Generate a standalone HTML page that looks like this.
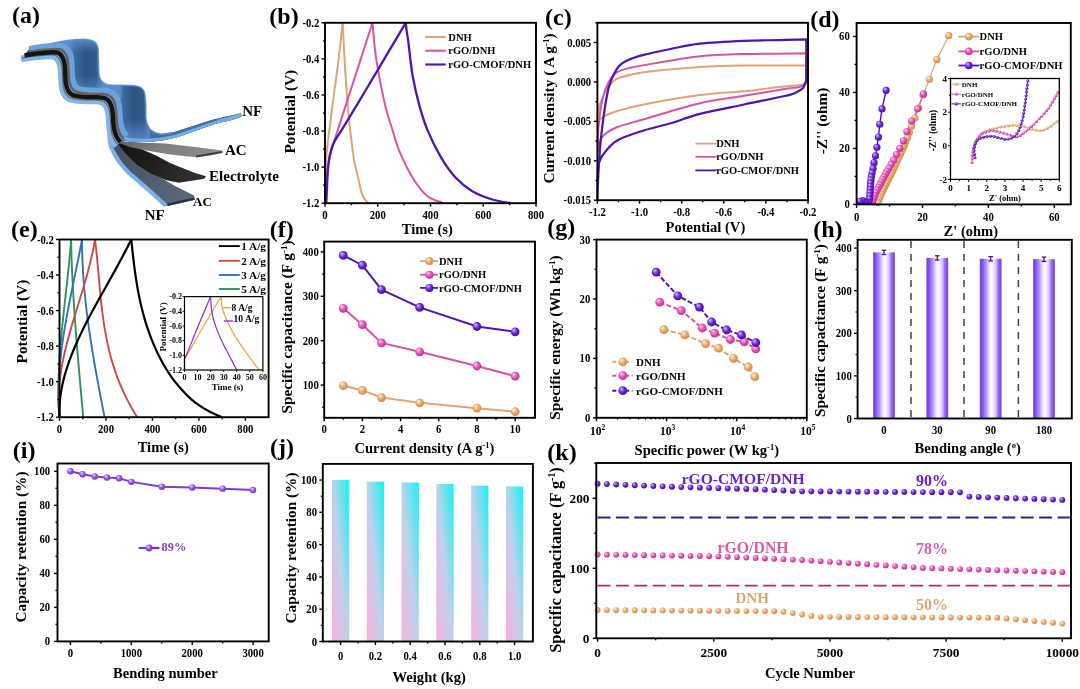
<!DOCTYPE html><html><head><meta charset="utf-8"><title>Figure</title><style>html,body{margin:0;padding:0;background:#fff;overflow:hidden;}svg{display:block;}</style></head><body><svg width="1080" height="689" viewBox="0 0 1080 689" font-family="'Liberation Serif','Times New Roman',serif" font-weight="bold"><defs><radialGradient id="gO" cx="0.45" cy="0.45" r="0.6" fx="0.32" fy="0.28"><stop offset="0" stop-color="#fff3e2"/><stop offset="0.55" stop-color="#eda867"/><stop offset="1" stop-color="#c9864a"/></radialGradient><radialGradient id="gP" cx="0.45" cy="0.45" r="0.6" fx="0.32" fy="0.28"><stop offset="0" stop-color="#ffd6f2"/><stop offset="0.55" stop-color="#e653b4"/><stop offset="1" stop-color="#b8288a"/></radialGradient><radialGradient id="gU" cx="0.45" cy="0.45" r="0.6" fx="0.32" fy="0.28"><stop offset="0" stop-color="#d9c0ff"/><stop offset="0.55" stop-color="#6a22d6"/><stop offset="1" stop-color="#42099a"/></radialGradient><radialGradient id="gL" cx="0.45" cy="0.45" r="0.6" fx="0.32" fy="0.28"><stop offset="0" stop-color="#ecdcff"/><stop offset="0.55" stop-color="#9655e6"/><stop offset="1" stop-color="#6a2cc0"/></radialGradient><linearGradient id="hb" x1="0" y1="0" x2="1" y2="0"><stop offset="0" stop-color="#7048d0"/><stop offset="0.06" stop-color="#7a44ee"/><stop offset="0.14" stop-color="#8a58f4"/><stop offset="0.3" stop-color="#b79cf8"/><stop offset="0.45" stop-color="#eee8ff"/><stop offset="0.55" stop-color="#fffdff"/><stop offset="0.72" stop-color="#dccaff"/><stop offset="0.86" stop-color="#9662f6"/><stop offset="0.95" stop-color="#7f4ae6"/><stop offset="1" stop-color="#7a50c8"/></linearGradient><linearGradient id="jb" x1="0" y1="1" x2="1" y2="0"><stop offset="0" stop-color="#fbb0dc"/><stop offset="0.5" stop-color="#bcd2ec"/><stop offset="1" stop-color="#16f2f2"/></linearGradient><linearGradient id="atop" x1="0" y1="0" x2="1" y2="0.25"><stop offset="0" stop-color="#4f86c4"/><stop offset="0.25" stop-color="#3d6ea8"/><stop offset="0.55" stop-color="#3a69a2"/><stop offset="1" stop-color="#4a80bd"/></linearGradient><linearGradient id="alow" x1="0" y1="0" x2="1" y2="0.6"><stop offset="0" stop-color="#3e4a58"/><stop offset="1" stop-color="#5a6676"/></linearGradient><linearGradient id="aac" x1="0" y1="0" x2="1" y2="0.4"><stop offset="0" stop-color="#5c5c5c"/><stop offset="0.5" stop-color="#7e7e7e"/><stop offset="1" stop-color="#8a8a8a"/></linearGradient><linearGradient id="ael" x1="0" y1="0" x2="1" y2="0.5"><stop offset="0" stop-color="#0e0e0e"/><stop offset="0.6" stop-color="#1e1e1e"/><stop offset="1" stop-color="#2e2e2e"/></linearGradient><linearGradient id="gd1" gradientUnits="userSpaceOnUse" x1="70" y1="0" x2="100" y2="0"><stop offset="0" stop-color="#5585be"/><stop offset="0.16" stop-color="#3f699c"/><stop offset="0.5" stop-color="#2f5585"/><stop offset="0.85" stop-color="#33598a"/><stop offset="1" stop-color="#4874aa"/></linearGradient><linearGradient id="gd2" gradientUnits="userSpaceOnUse" x1="118" y1="0" x2="148" y2="0"><stop offset="0" stop-color="#5585be"/><stop offset="0.16" stop-color="#3f699c"/><stop offset="0.5" stop-color="#2f5585"/><stop offset="0.85" stop-color="#33598a"/><stop offset="1" stop-color="#4874aa"/></linearGradient><linearGradient id="gv1" gradientUnits="userSpaceOnUse" x1="0" y1="76" x2="0" y2="93"><stop offset="0" stop-color="#6aa4e6" stop-opacity="0"/><stop offset="1" stop-color="#5c94d4" stop-opacity="0.6"/></linearGradient><linearGradient id="gv2" gradientUnits="userSpaceOnUse" x1="0" y1="120" x2="0" y2="137"><stop offset="0" stop-color="#6aa4e6" stop-opacity="0"/><stop offset="1" stop-color="#5c94d4" stop-opacity="0.6"/></linearGradient><linearGradient id="gh1" gradientUnits="userSpaceOnUse" x1="0" y1="38" x2="0" y2="52"><stop offset="0" stop-color="#5e92d0" stop-opacity="0.9"/><stop offset="1" stop-color="#5e92d0" stop-opacity="0"/></linearGradient><clipPath id="ctop"><path d="M29,49.2C32.93,48.2 45.93,44.67 52.6,43.2C59.27,41.73 63.55,41.03 69,40.4C74.45,39.77 81.13,39.22 85.3,39.4C89.47,39.58 91.92,40.23 94,41.5C96.08,42.77 97.08,44.45 97.8,47C98.52,49.55 98.12,52.45 98.3,56.8C98.48,61.15 98.62,69.48 98.9,73.1C99.18,76.72 99.18,76.87 100,78.5C100.82,80.13 102.13,81.82 103.8,82.9C105.47,83.98 105.38,84.57 110,85C114.62,85.43 126.4,85.1 131.5,85.5C136.6,85.9 138.43,86.2 140.6,87.4C142.77,88.6 143.63,89.65 144.5,92.7C145.37,95.75 145.55,101.48 145.8,105.7C146.05,109.92 145.63,114.62 146,118C146.37,121.38 146.83,123.75 148,126C149.17,128.25 150.83,130.17 153,131.5C155.17,132.83 157.85,133.82 161,134C164.15,134.18 166.82,133.85 171.9,132.6C176.98,131.35 184.97,128.57 191.5,126.5C198.03,124.43 202.85,122.42 211.1,120.2C219.35,117.98 236.02,114.37 241,113.2 L241,117C239.17,117.58 234.98,119.13 230,120.5C225.02,121.87 217.52,123.23 211.1,125.2C204.68,127.17 198.03,130.07 191.5,132.3C184.97,134.53 178.43,137.05 171.9,138.6C165.37,140.15 158.83,141.12 152.3,141.6C145.77,142.08 137.92,141.68 132.7,141.5C127.48,141.32 122.95,140.67 121,140.5 L120.5,142C120.02,141.42 118.52,140.08 117.6,138.5C116.68,136.92 115.67,134.62 115,132.5C114.33,130.38 113.95,128.62 113.6,125.8C113.25,122.98 113.17,118.48 112.9,115.6C112.63,112.72 112.57,110.77 112,108.5C111.43,106.23 110.67,103.7 109.5,102C108.33,100.3 106.92,99.08 105,98.3C103.08,97.52 101.38,97.5 98,97.3C94.62,97.1 88.95,97.48 84.7,97.1C80.45,96.72 75.32,96.18 72.5,95C69.68,93.82 68.92,92 67.8,90C66.68,88 66.23,85.75 65.8,83C65.37,80.25 65.42,76.67 65.2,73.5C64.98,70.33 64.95,66.67 64.5,64C64.05,61.33 63.5,59.33 62.5,57.5C61.5,55.67 60.25,53.88 58.5,53C56.75,52.12 54.9,52.18 52,52.2C49.1,52.22 44.77,52.72 41.1,53.1C37.43,53.48 32.77,54.1 30,54.5C27.23,54.9 25.42,55.33 24.5,55.5Z"/></clipPath></defs><rect width="1080" height="689" fill="#fff"/><g fill="none" stroke-linejoin="round">
<path d="M325.26,203.2C325.3,199.59 325.32,188.77 325.47,181.55C325.63,174.34 325.78,166.52 326.19,159.9C326.59,153.29 326.78,151.49 327.9,141.86C329.02,132.24 331.2,115.41 332.91,102.18C334.63,88.95 336.56,75.72 338.19,62.49C339.81,49.26 341.92,29.41 342.67,22.8" stroke="#dfa479" stroke-width="2.0" fill="none"/>
<path d="M342.67,22.8C342.8,25.51 343.07,31.52 343.46,39.04C343.86,46.55 344.47,58.58 345.05,67.9C345.62,77.22 346.28,86.84 346.89,94.96C347.51,103.08 348.12,110.17 348.74,116.61C349.35,123.04 349.7,126.38 350.58,133.57C351.46,140.75 352.78,152.48 354.01,159.72C355.24,166.97 356.61,171.24 357.97,177.04C359.33,182.84 360.74,190.48 362.19,194.54C363.64,198.6 365.53,199.95 366.67,201.4C367.82,202.84 368.65,202.9 369.05,203.2" stroke="#dfa479" stroke-width="2.0" fill="none"/>
<path d="M325.79,203.2C325.84,200.19 325.91,190.09 326.06,185.16C326.2,180.23 326.25,177.52 326.69,173.61C327.13,169.71 327.96,165.35 328.69,161.71C329.42,158.07 330.01,155.63 331.07,151.79C332.12,147.94 332.52,146.52 335.02,138.62C337.53,130.71 342.06,116.85 346.1,104.34C350.14,91.83 354.89,77.16 359.29,63.57C363.68,49.98 370.28,29.6 372.48,22.8" stroke="#d6569f" stroke-width="2.0" fill="none"/>
<path d="M372.48,22.8C372.69,25.21 373.27,31.88 373.79,37.23C374.32,42.58 374.58,47.61 375.64,54.91C376.69,62.22 378.45,72.35 380.12,81.07C381.79,89.79 383.64,99.2 385.66,107.23C387.68,115.26 389.88,121.72 392.26,129.24C394.63,136.75 396.3,143.91 399.9,152.33C403.51,160.75 409.27,172.41 413.88,179.75C418.5,187.08 423.03,192.59 427.6,196.34C432.17,200.1 438.68,201.16 441.31,202.3C443.95,203.44 443.07,203.05 443.42,203.2" stroke="#d6569f" stroke-width="2.0" fill="none"/>
<path d="M326.32,203.2C326.38,201.7 326.56,197.79 326.71,194.18C326.87,190.57 327,186.06 327.24,181.55C327.48,177.04 327.75,171.48 328.17,167.12C328.58,162.76 328.96,159.15 329.75,155.39C330.54,151.64 331.73,147.58 332.91,144.57C334.1,141.56 335.42,139.76 336.87,137.35C338.32,134.95 338.32,135.46 341.62,130.14C344.91,124.82 351.51,113.96 356.65,105.42C361.79,96.88 367.2,87.77 372.48,78.9C377.75,70.03 382.76,61.56 388.3,52.21C393.84,42.85 402.81,27.7 405.71,22.8" stroke="#4e16ae" stroke-width="2.3" fill="none"/>
<path d="M405.71,22.8C405.88,24.3 406.32,28.63 406.76,31.82C407.2,35.01 407.38,34.68 408.35,41.92C409.31,49.17 410.72,64.68 412.56,75.3C414.41,85.91 416.92,96.43 419.42,105.6C421.93,114.77 423.95,121.6 427.6,130.32C431.25,139.04 436.7,150.1 441.31,157.92C445.93,165.74 450.19,171.72 455.29,177.22C460.39,182.72 465.89,187.26 471.91,190.93C477.93,194.6 484.96,197.19 491.43,199.23C497.89,201.28 507.47,202.54 510.68,203.2" stroke="#4e16ae" stroke-width="2.3" fill="none"/>
</g>
<rect x="325" y="22.8" width="211" height="180.4" fill="none" stroke="#000" stroke-width="1.9"/>
<line x1="325" y1="203.2" x2="325" y2="206.7" stroke="#000" stroke-width="1.4"/>
<text x="0" y="0" font-size="11.5" text-anchor="middle" transform="translate(325,218.7) scale(0.93,1)">0</text>
<line x1="377.75" y1="203.2" x2="377.75" y2="206.7" stroke="#000" stroke-width="1.4"/>
<text x="0" y="0" font-size="11.5" text-anchor="middle" transform="translate(377.75,218.7) scale(0.93,1)">200</text>
<line x1="430.5" y1="203.2" x2="430.5" y2="206.7" stroke="#000" stroke-width="1.4"/>
<text x="0" y="0" font-size="11.5" text-anchor="middle" transform="translate(430.5,218.7) scale(0.93,1)">400</text>
<line x1="483.25" y1="203.2" x2="483.25" y2="206.7" stroke="#000" stroke-width="1.4"/>
<text x="0" y="0" font-size="11.5" text-anchor="middle" transform="translate(483.25,218.7) scale(0.93,1)">600</text>
<line x1="536" y1="203.2" x2="536" y2="206.7" stroke="#000" stroke-width="1.4"/>
<text x="0" y="0" font-size="11.5" text-anchor="middle" transform="translate(536,218.7) scale(0.93,1)">800</text>
<line x1="351.38" y1="203.2" x2="351.38" y2="205.2" stroke="#000" stroke-width="1.4"/>
<line x1="404.12" y1="203.2" x2="404.12" y2="205.2" stroke="#000" stroke-width="1.4"/>
<line x1="456.88" y1="203.2" x2="456.88" y2="205.2" stroke="#000" stroke-width="1.4"/>
<line x1="509.62" y1="203.2" x2="509.62" y2="205.2" stroke="#000" stroke-width="1.4"/>
<line x1="325" y1="22.8" x2="321.5" y2="22.8" stroke="#000" stroke-width="1.4"/>
<text x="0" y="0" font-size="11.5" text-anchor="end" transform="translate(319.3,26.83) scale(0.93,1)">-0.2</text>
<line x1="325" y1="58.88" x2="321.5" y2="58.88" stroke="#000" stroke-width="1.4"/>
<text x="0" y="0" font-size="11.5" text-anchor="end" transform="translate(319.3,62.91) scale(0.93,1)">-0.4</text>
<line x1="325" y1="94.96" x2="321.5" y2="94.96" stroke="#000" stroke-width="1.4"/>
<text x="0" y="0" font-size="11.5" text-anchor="end" transform="translate(319.3,98.99) scale(0.93,1)">-0.6</text>
<line x1="325" y1="131.04" x2="321.5" y2="131.04" stroke="#000" stroke-width="1.4"/>
<text x="0" y="0" font-size="11.5" text-anchor="end" transform="translate(319.3,135.07) scale(0.93,1)">-0.8</text>
<line x1="325" y1="167.12" x2="321.5" y2="167.12" stroke="#000" stroke-width="1.4"/>
<text x="0" y="0" font-size="11.5" text-anchor="end" transform="translate(319.3,171.15) scale(0.93,1)">-1.0</text>
<line x1="325" y1="203.2" x2="321.5" y2="203.2" stroke="#000" stroke-width="1.4"/>
<text x="0" y="0" font-size="11.5" text-anchor="end" transform="translate(319.3,207.22) scale(0.93,1)">-1.2</text>
<line x1="325" y1="40.84" x2="323" y2="40.84" stroke="#000" stroke-width="1.4"/>
<line x1="325" y1="76.92" x2="323" y2="76.92" stroke="#000" stroke-width="1.4"/>
<line x1="325" y1="113" x2="323" y2="113" stroke="#000" stroke-width="1.4"/>
<line x1="325" y1="149.08" x2="323" y2="149.08" stroke="#000" stroke-width="1.4"/>
<line x1="325" y1="185.16" x2="323" y2="185.16" stroke="#000" stroke-width="1.4"/>
<line x1="425.2" y1="37" x2="445.7" y2="37" stroke="#dfa479" stroke-width="2.1"/>
<text x="448.3" y="40.6" font-size="10.5">DNH</text>
<line x1="425.2" y1="50.7" x2="445.7" y2="50.7" stroke="#d6569f" stroke-width="2.1"/>
<text x="448.3" y="54.3" font-size="10.5">rGO/DNH</text>
<line x1="425.2" y1="64.5" x2="445.7" y2="64.5" stroke="#4e16ae" stroke-width="2.1"/>
<text x="448.3" y="68.1" font-size="10.5">rGO-CMOF/DNH</text>
<text x="0" y="0" font-size="15.3" text-anchor="middle" transform="translate(295.05,111.7) rotate(-90)">Potential (V)</text>
<text x="0" y="0" font-size="15.5" text-anchor="middle" transform="translate(427.3,234.4) scale(0.94,1)">Time (s)</text>
<text x="269.3" y="24" font-size="24">(b)</text>
<g fill="none" stroke-linejoin="round">
<path d="M597.9,125C597.83,123.15 596.58,118.88 597.5,113.9C598.42,108.92 601.07,100.23 603.4,95.1C605.73,89.97 608.82,86 611.5,83.1C614.18,80.2 614.13,79.5 619.5,77.7C624.87,75.9 630.28,74.08 643.7,72.3C657.12,70.52 683.28,68.13 700,67C716.72,65.87 726.28,65.75 744,65.5C761.72,65.25 795.92,65.5 806.3,65.5 L806.3,83.6C805.25,83.83 804.58,84.42 800,85C795.42,85.58 788.13,86.05 778.8,87.1C769.47,88.15 757.13,89.97 744,91.3C730.87,92.63 716.72,92.9 700,95.1C683.28,97.3 657.57,101.82 643.7,104.5C629.83,107.18 623.07,109.4 616.8,111.2C610.53,113 608.9,113.92 606.1,115.3C603.3,116.68 601.37,117.88 600,119.5C598.63,121.12 598.25,124.08 597.9,125" stroke="#dfa479" stroke-width="2.0" fill="none"/>
<path d="M597.9,150C597.97,146.67 597.6,138.25 598.3,130C599,121.75 600.35,108.55 602.1,100.5C603.85,92.45 606.35,86.4 608.8,81.7C611.25,77 613.23,74.62 616.8,72.3C620.37,69.98 623.48,69.37 630.2,67.8C636.92,66.23 645.47,64.83 657.1,62.9C668.73,60.97 685.52,57.68 700,56.2C714.48,54.72 726.28,54.48 744,54C761.72,53.52 795.92,53.42 806.3,53.3 L806.3,82C805.58,82.67 803.68,85.07 802,86C800.32,86.93 800.07,86.95 796.2,87.6C792.33,88.25 787.5,88.53 778.8,89.9C770.1,91.27 757.13,93.58 744,95.8C730.87,98.02 716.72,99.28 700,103.2C683.28,107.12 657.57,115.28 643.7,119.3C629.83,123.32 623.52,124.62 616.8,127.3C610.08,129.98 606.28,132.78 603.4,135.4C600.52,138.02 600.35,140.48 599.5,143C598.65,145.52 598.57,149.33 598.3,150.5C598.03,151.67 597.97,150.08 597.9,150" stroke="#d6569f" stroke-width="2.0" fill="none"/>
<path d="M597.4,199C597.5,196 597.45,190.72 598,181C598.55,171.28 599.57,152.78 600.7,140.7C601.83,128.62 603.45,117.43 604.8,108.5C606.15,99.57 607.25,92.9 608.8,87.1C610.35,81.3 612.32,77.28 614.1,73.7C615.88,70.12 617.25,67.85 619.5,65.6C621.75,63.35 623.57,61.98 627.6,60.2C631.63,58.42 636.55,56.77 643.7,54.9C650.85,53.03 661.12,50.88 670.5,49C679.88,47.12 687.75,44.97 700,43.6C712.25,42.23 730.87,41.38 744,40.8C757.13,40.22 768.42,40.33 778.8,40.1C789.18,39.87 801.72,39.52 806.3,39.4 L806.3,80C805.75,81.33 804.72,85.92 803,88C801.28,90.08 798.87,91.2 796,92.5C793.13,93.8 794.47,93.8 785.8,95.8C777.13,97.8 758.3,101.48 744,104.5C729.7,107.52 712.25,110.77 700,113.9C687.75,117.03 679.88,120.53 670.5,123.3C661.12,126.07 652.65,127.6 643.7,130.5C634.75,133.4 623.52,136.75 616.8,140.7C610.08,144.65 606.3,150.65 603.4,154.2C600.5,157.75 600.3,159.7 599.4,162C598.5,164.3 598.33,161.83 598,168C597.67,174.17 597.5,193.83 597.4,199" stroke="#4e16ae" stroke-width="2.2" fill="none"/>
</g>
<rect x="597.4" y="22.8" width="210.6" height="177.4" fill="none" stroke="#000" stroke-width="1.9"/>
<line x1="597.4" y1="200.2" x2="597.4" y2="203.7" stroke="#000" stroke-width="1.4"/>
<text x="0" y="0" font-size="11.5" text-anchor="middle" transform="translate(597.4,215.7) scale(0.93,1)">-1.2</text>
<line x1="639.52" y1="200.2" x2="639.52" y2="203.7" stroke="#000" stroke-width="1.4"/>
<text x="0" y="0" font-size="11.5" text-anchor="middle" transform="translate(639.52,215.7) scale(0.93,1)">-1.0</text>
<line x1="681.64" y1="200.2" x2="681.64" y2="203.7" stroke="#000" stroke-width="1.4"/>
<text x="0" y="0" font-size="11.5" text-anchor="middle" transform="translate(681.64,215.7) scale(0.93,1)">-0.8</text>
<line x1="723.76" y1="200.2" x2="723.76" y2="203.7" stroke="#000" stroke-width="1.4"/>
<text x="0" y="0" font-size="11.5" text-anchor="middle" transform="translate(723.76,215.7) scale(0.93,1)">-0.6</text>
<line x1="765.88" y1="200.2" x2="765.88" y2="203.7" stroke="#000" stroke-width="1.4"/>
<text x="0" y="0" font-size="11.5" text-anchor="middle" transform="translate(765.88,215.7) scale(0.93,1)">-0.4</text>
<line x1="808" y1="200.2" x2="808" y2="203.7" stroke="#000" stroke-width="1.4"/>
<text x="0" y="0" font-size="11.5" text-anchor="middle" transform="translate(808,215.7) scale(0.93,1)">-0.2</text>
<line x1="618.46" y1="200.2" x2="618.46" y2="202.2" stroke="#000" stroke-width="1.4"/>
<line x1="660.58" y1="200.2" x2="660.58" y2="202.2" stroke="#000" stroke-width="1.4"/>
<line x1="702.7" y1="200.2" x2="702.7" y2="202.2" stroke="#000" stroke-width="1.4"/>
<line x1="744.82" y1="200.2" x2="744.82" y2="202.2" stroke="#000" stroke-width="1.4"/>
<line x1="786.94" y1="200.2" x2="786.94" y2="202.2" stroke="#000" stroke-width="1.4"/>
<line x1="597.4" y1="42.51" x2="593.9" y2="42.51" stroke="#000" stroke-width="1.4"/>
<text x="0" y="0" font-size="11.5" text-anchor="end" transform="translate(591.2,46.54) scale(0.93,1)">0.005</text>
<line x1="597.4" y1="81.93" x2="593.9" y2="81.93" stroke="#000" stroke-width="1.4"/>
<text x="0" y="0" font-size="11.5" text-anchor="end" transform="translate(591.2,85.96) scale(0.93,1)">0.000</text>
<line x1="597.4" y1="121.36" x2="593.9" y2="121.36" stroke="#000" stroke-width="1.4"/>
<text x="0" y="0" font-size="11.5" text-anchor="end" transform="translate(591.2,125.38) scale(0.93,1)">-0.005</text>
<line x1="597.4" y1="160.78" x2="593.9" y2="160.78" stroke="#000" stroke-width="1.4"/>
<text x="0" y="0" font-size="11.5" text-anchor="end" transform="translate(591.2,164.8) scale(0.93,1)">-0.010</text>
<line x1="597.4" y1="200.2" x2="593.9" y2="200.2" stroke="#000" stroke-width="1.4"/>
<text x="0" y="0" font-size="11.5" text-anchor="end" transform="translate(591.2,204.22) scale(0.93,1)">-0.015</text>
<line x1="597.4" y1="22.8" x2="595.4" y2="22.8" stroke="#000" stroke-width="1.4"/>
<line x1="597.4" y1="62.22" x2="595.4" y2="62.22" stroke="#000" stroke-width="1.4"/>
<line x1="597.4" y1="101.64" x2="595.4" y2="101.64" stroke="#000" stroke-width="1.4"/>
<line x1="597.4" y1="141.07" x2="595.4" y2="141.07" stroke="#000" stroke-width="1.4"/>
<line x1="597.4" y1="180.49" x2="595.4" y2="180.49" stroke="#000" stroke-width="1.4"/>
<line x1="695.4" y1="143.6" x2="716.5" y2="143.6" stroke="#dfa479" stroke-width="1.8"/>
<text x="716.2" y="147.2" font-size="10.5">DNH</text>
<line x1="695.4" y1="156.8" x2="716.5" y2="156.8" stroke="#d6569f" stroke-width="1.8"/>
<text x="716.2" y="160.4" font-size="10.5">rGO/DNH</text>
<line x1="695.4" y1="170.4" x2="716.5" y2="170.4" stroke="#4e16ae" stroke-width="1.8"/>
<text x="716.2" y="174" font-size="10.5">rGO-CMOF/DNH</text>
<text x="0" y="0" font-size="15.3" text-anchor="middle" transform="translate(553.75,108.5) rotate(-90)">Current density ( A g<tspan dy="-5" font-size="9">-1</tspan><tspan dy="5">)</tspan></text>
<text x="0" y="0" font-size="15.5" text-anchor="middle" transform="translate(705.4,232) scale(0.94,1)">Potential (V)</text>
<text x="545" y="24.9" font-size="24">(c)</text>
<g fill="none">
<path d="M948.7,35.7 L936.9,59.4 L929.4,79.3 L923.4,93.9 L918,110 L912.5,124 L906.6,140 L899,157 L893,170 L886.3,183.5 L881,194 L877.6,203.9" stroke="#dfa479" stroke-width="1.2" fill="none"/>
<path d="M923.4,93.9 L917.6,109 L912.9,118.7 L909.3,125.6 L906.3,133 L903.2,141.3 L898,152 L892,163 L886,173 L880.5,183.5 L876,192 L871.8,203.9" stroke="#d6569f" stroke-width="1.2" fill="none"/>
<path d="M886.1,90.3 L882,108.8 L879.8,124.2 L878.4,137.1 L877,146.8 L875.7,155.1 L874.3,160.6 L873.5,166.1 L872.4,171.6 L871.5,175.7 L870.8,181 L870.3,187 L870,193 L869.6,199 L868.5,202.5 L866,202 L863,200.5 L860,201 L857.5,203.5" stroke="#4e16ae" stroke-width="1.4" fill="none"/>
</g>
<circle cx="948.7" cy="35.7" r="3.6" fill="url(#gO)"/>
<circle cx="936.89" cy="59.42" r="3.6" fill="url(#gO)"/>
<circle cx="929.41" cy="79.26" r="3.6" fill="url(#gO)"/>
<circle cx="923.04" cy="94.97" r="3.6" fill="url(#gO)"/>
<circle cx="918.72" cy="107.84" r="3.6" fill="url(#gO)"/>
<circle cx="914.86" cy="117.98" r="3.6" fill="url(#gO)"/>
<circle cx="911.73" cy="126.08" r="3.6" fill="url(#gO)"/>
<circle cx="909.33" cy="132.6" r="3.6" fill="url(#gO)"/>
<circle cx="907.41" cy="137.81" r="3.6" fill="url(#gO)"/>
<circle cx="905.74" cy="141.93" r="3.6" fill="url(#gO)"/>
<circle cx="904.29" cy="145.18" r="3.6" fill="url(#gO)"/>
<circle cx="903.06" cy="147.92" r="3.6" fill="url(#gO)"/>
<circle cx="901.84" cy="150.65" r="3.6" fill="url(#gO)"/>
<circle cx="900.61" cy="153.39" r="3.6" fill="url(#gO)"/>
<circle cx="899.39" cy="156.13" r="3.6" fill="url(#gO)"/>
<circle cx="898.14" cy="158.86" r="3.6" fill="url(#gO)"/>
<circle cx="896.88" cy="161.58" r="3.6" fill="url(#gO)"/>
<circle cx="895.63" cy="164.31" r="3.6" fill="url(#gO)"/>
<circle cx="894.37" cy="167.03" r="3.6" fill="url(#gO)"/>
<circle cx="893.11" cy="169.76" r="3.6" fill="url(#gO)"/>
<circle cx="891.79" cy="172.45" r="3.6" fill="url(#gO)"/>
<circle cx="890.45" cy="175.13" r="3.6" fill="url(#gO)"/>
<circle cx="889.12" cy="177.82" r="3.6" fill="url(#gO)"/>
<circle cx="887.78" cy="180.51" r="3.6" fill="url(#gO)"/>
<circle cx="886.45" cy="183.2" r="3.6" fill="url(#gO)"/>
<circle cx="885.1" cy="185.87" r="3.6" fill="url(#gO)"/>
<circle cx="883.75" cy="188.55" r="3.6" fill="url(#gO)"/>
<circle cx="882.4" cy="191.23" r="3.6" fill="url(#gO)"/>
<circle cx="881.05" cy="193.91" r="3.6" fill="url(#gO)"/>
<circle cx="880.06" cy="196.74" r="3.6" fill="url(#gO)"/>
<circle cx="879.08" cy="199.58" r="3.6" fill="url(#gO)"/>
<circle cx="878.11" cy="202.42" r="3.6" fill="url(#gO)"/>
<circle cx="923.4" cy="93.9" r="3.6" fill="url(#gP)"/>
<circle cx="917.66" cy="108.84" r="3.6" fill="url(#gP)"/>
<circle cx="911.68" cy="121.05" r="3.6" fill="url(#gP)"/>
<circle cx="906.89" cy="131.55" r="3.6" fill="url(#gP)"/>
<circle cx="903.41" cy="140.74" r="3.6" fill="url(#gP)"/>
<circle cx="899.81" cy="148.28" r="3.6" fill="url(#gP)"/>
<circle cx="896.58" cy="154.6" r="3.6" fill="url(#gP)"/>
<circle cx="893.69" cy="159.9" r="3.6" fill="url(#gP)"/>
<circle cx="891.18" cy="164.37" r="3.6" fill="url(#gP)"/>
<circle cx="888.94" cy="168.1" r="3.6" fill="url(#gP)"/>
<circle cx="887.03" cy="171.28" r="3.6" fill="url(#gP)"/>
<circle cx="885.47" cy="174.02" r="3.6" fill="url(#gP)"/>
<circle cx="884.08" cy="176.67" r="3.6" fill="url(#gP)"/>
<circle cx="882.68" cy="179.33" r="3.6" fill="url(#gP)"/>
<circle cx="881.29" cy="181.99" r="3.6" fill="url(#gP)"/>
<circle cx="879.9" cy="184.64" r="3.6" fill="url(#gP)"/>
<circle cx="878.49" cy="187.29" r="3.6" fill="url(#gP)"/>
<circle cx="877.09" cy="189.95" r="3.6" fill="url(#gP)"/>
<circle cx="875.78" cy="192.64" r="3.6" fill="url(#gP)"/>
<circle cx="874.78" cy="195.47" r="3.6" fill="url(#gP)"/>
<circle cx="873.78" cy="198.29" r="3.6" fill="url(#gP)"/>
<circle cx="872.78" cy="201.12" r="3.6" fill="url(#gP)"/>
<circle cx="886.1" cy="90.3" r="3.6" fill="url(#gU)"/>
<circle cx="881.99" cy="108.85" r="3.6" fill="url(#gU)"/>
<circle cx="879.79" cy="124.27" r="3.6" fill="url(#gU)"/>
<circle cx="878.41" cy="136.98" r="3.6" fill="url(#gU)"/>
<circle cx="876.91" cy="147.34" r="3.6" fill="url(#gU)"/>
<circle cx="875.52" cy="155.82" r="3.6" fill="url(#gU)"/>
<circle cx="874" cy="162.69" r="3.6" fill="url(#gU)"/>
<circle cx="873.04" cy="168.38" r="3.6" fill="url(#gU)"/>
<circle cx="872.09" cy="173.02" r="3.6" fill="url(#gU)"/>
<circle cx="871.35" cy="176.83" r="3.6" fill="url(#gU)"/>
<circle cx="870.93" cy="180" r="3.6" fill="url(#gU)"/>
<circle cx="870.62" cy="183.19" r="3.6" fill="url(#gU)"/>
<circle cx="870.35" cy="186.38" r="3.6" fill="url(#gU)"/>
<circle cx="870.17" cy="189.57" r="3.6" fill="url(#gU)"/>
<circle cx="870.01" cy="192.77" r="3.6" fill="url(#gU)"/>
<circle cx="869.8" cy="195.96" r="3.6" fill="url(#gU)"/>
<circle cx="869.55" cy="199.15" r="3.6" fill="url(#gU)"/>
<circle cx="868.59" cy="202.2" r="3.6" fill="url(#gU)"/>
<circle cx="865.7" cy="201.85" r="3.6" fill="url(#gU)"/>
<circle cx="862.82" cy="200.53" r="3.6" fill="url(#gU)"/>
<circle cx="859.76" cy="201.24" r="3.6" fill="url(#gU)"/>
<rect x="856" y="204.4" width="20" height="6" fill="#fff"/>
<rect x="856.6" y="23" width="214.2" height="181.4" fill="none" stroke="#000" stroke-width="1.9"/>
<line x1="856.6" y1="204.4" x2="856.6" y2="207.9" stroke="#000" stroke-width="1.4"/>
<text x="0" y="0" font-size="11.5" text-anchor="middle" transform="translate(856.6,220.9) scale(0.93,1)">0</text>
<line x1="922.51" y1="204.4" x2="922.51" y2="207.9" stroke="#000" stroke-width="1.4"/>
<text x="0" y="0" font-size="11.5" text-anchor="middle" transform="translate(922.51,220.9) scale(0.93,1)">20</text>
<line x1="988.42" y1="204.4" x2="988.42" y2="207.9" stroke="#000" stroke-width="1.4"/>
<text x="0" y="0" font-size="11.5" text-anchor="middle" transform="translate(988.42,220.9) scale(0.93,1)">40</text>
<line x1="1054.32" y1="204.4" x2="1054.32" y2="207.9" stroke="#000" stroke-width="1.4"/>
<text x="0" y="0" font-size="11.5" text-anchor="middle" transform="translate(1054.32,220.9) scale(0.93,1)">60</text>
<line x1="889.55" y1="204.4" x2="889.55" y2="206.4" stroke="#000" stroke-width="1.4"/>
<line x1="955.46" y1="204.4" x2="955.46" y2="206.4" stroke="#000" stroke-width="1.4"/>
<line x1="1021.37" y1="204.4" x2="1021.37" y2="206.4" stroke="#000" stroke-width="1.4"/>
<line x1="856.6" y1="204.4" x2="853.1" y2="204.4" stroke="#000" stroke-width="1.4"/>
<text x="0" y="0" font-size="11.5" text-anchor="end" transform="translate(849.8,208.43) scale(0.93,1)">0</text>
<line x1="856.6" y1="148.41" x2="853.1" y2="148.41" stroke="#000" stroke-width="1.4"/>
<text x="0" y="0" font-size="11.5" text-anchor="end" transform="translate(849.8,152.44) scale(0.93,1)">20</text>
<line x1="856.6" y1="92.42" x2="853.1" y2="92.42" stroke="#000" stroke-width="1.4"/>
<text x="0" y="0" font-size="11.5" text-anchor="end" transform="translate(849.8,96.45) scale(0.93,1)">40</text>
<line x1="856.6" y1="36.44" x2="853.1" y2="36.44" stroke="#000" stroke-width="1.4"/>
<text x="0" y="0" font-size="11.5" text-anchor="end" transform="translate(849.8,40.46) scale(0.93,1)">60</text>
<line x1="856.6" y1="176.41" x2="854.6" y2="176.41" stroke="#000" stroke-width="1.4"/>
<line x1="856.6" y1="120.42" x2="854.6" y2="120.42" stroke="#000" stroke-width="1.4"/>
<line x1="856.6" y1="64.43" x2="854.6" y2="64.43" stroke="#000" stroke-width="1.4"/>
<line x1="958.4" y1="36.6" x2="979.3" y2="36.6" stroke="#dfa479" stroke-width="1.8"/>
<circle cx="968.8" cy="36.6" r="3.8" fill="url(#gO)"/>
<text x="979.6" y="40.2" font-size="10.5">DNH</text>
<line x1="958.4" y1="51.4" x2="979.3" y2="51.4" stroke="#d6569f" stroke-width="1.8"/>
<circle cx="968.8" cy="51.4" r="3.8" fill="url(#gP)"/>
<text x="979.6" y="55" font-size="10.5">rGO/DNH</text>
<line x1="958.4" y1="65.5" x2="979.3" y2="65.5" stroke="#4e16ae" stroke-width="1.8"/>
<circle cx="968.8" cy="65.5" r="3.8" fill="url(#gU)"/>
<text x="979.6" y="69.1" font-size="10.5">rGO-CMOF/DNH</text>
<rect x="950.5" y="78.5" width="108.8" height="100.9" fill="#fff"/>
<path d="M972.62,155.02C972.71,154.57 972.62,154.65 973.17,152.33C973.71,150 974.47,144.17 975.89,141.06C977.31,137.95 979.48,135.51 981.69,133.66C983.9,131.81 986.01,131.05 989.12,129.96C992.24,128.87 996.59,127.88 1000.37,127.1C1004.14,126.32 1008.01,125.42 1011.79,125.25C1015.57,125.08 1019.26,125.31 1023.03,126.09C1026.81,126.88 1031.31,129.17 1034.46,129.96C1037.6,130.74 1039.38,131.28 1041.89,130.8C1044.4,130.32 1047,128.64 1049.51,127.1C1052.02,125.56 1055.31,122.7 1056.94,121.55C1058.57,120.4 1058.91,120.43 1059.3,120.21" stroke="#dfa479" stroke-width="1.0" fill="none"/>
<circle cx="972.62" cy="155.02" r="1.5" fill="url(#gO)"/>
<circle cx="973.46" cy="151.11" r="1.5" fill="url(#gO)"/>
<circle cx="974.4" cy="147.22" r="1.5" fill="url(#gO)"/>
<circle cx="975.34" cy="143.33" r="1.5" fill="url(#gO)"/>
<circle cx="976.91" cy="139.75" r="1.5" fill="url(#gO)"/>
<circle cx="979.38" cy="136.6" r="1.5" fill="url(#gO)"/>
<circle cx="981.92" cy="133.54" r="1.5" fill="url(#gO)"/>
<circle cx="985.5" cy="131.76" r="1.5" fill="url(#gO)"/>
<circle cx="989.09" cy="129.98" r="1.5" fill="url(#gO)"/>
<circle cx="992.96" cy="128.98" r="1.5" fill="url(#gO)"/>
<circle cx="996.84" cy="128" r="1.5" fill="url(#gO)"/>
<circle cx="1000.72" cy="127.04" r="1.5" fill="url(#gO)"/>
<circle cx="1004.67" cy="126.4" r="1.5" fill="url(#gO)"/>
<circle cx="1008.62" cy="125.76" r="1.5" fill="url(#gO)"/>
<circle cx="1012.57" cy="125.31" r="1.5" fill="url(#gO)"/>
<circle cx="1016.56" cy="125.61" r="1.5" fill="url(#gO)"/>
<circle cx="1020.55" cy="125.91" r="1.5" fill="url(#gO)"/>
<circle cx="1024.46" cy="126.58" r="1.5" fill="url(#gO)"/>
<circle cx="1028.25" cy="127.86" r="1.5" fill="url(#gO)"/>
<circle cx="1032.04" cy="129.14" r="1.5" fill="url(#gO)"/>
<circle cx="1035.9" cy="130.12" r="1.5" fill="url(#gO)"/>
<circle cx="1039.87" cy="130.57" r="1.5" fill="url(#gO)"/>
<circle cx="1043.66" cy="129.94" r="1.5" fill="url(#gO)"/>
<circle cx="1047.26" cy="128.19" r="1.5" fill="url(#gO)"/>
<circle cx="1050.71" cy="126.2" r="1.5" fill="url(#gO)"/>
<circle cx="1053.91" cy="123.81" r="1.5" fill="url(#gO)"/>
<circle cx="1057.14" cy="121.44" r="1.5" fill="url(#gO)"/>
<path d="M972.08,162.42C972.11,161.32 972.08,158.07 972.26,155.86C972.44,153.64 972.56,151.65 973.17,149.13C973.77,146.61 974.47,143.38 975.89,140.72C977.31,138.06 979.12,134.89 981.69,133.15C984.26,131.42 988.19,130.46 991.3,130.3C994.41,130.13 997.19,131.33 1000.37,132.15C1003.54,132.96 1007.77,134.36 1010.34,135.17C1012.91,135.98 1014.27,136.88 1015.78,137.02C1017.29,137.16 1017.29,137.3 1019.41,136.01C1021.52,134.72 1025.45,131.86 1028.47,129.29C1031.5,126.71 1034.22,123.96 1037.54,120.54C1040.86,117.12 1044.79,113.81 1048.42,108.77C1052.05,103.72 1057.49,93.35 1059.3,90.27" stroke="#d6569f" stroke-width="1.0" fill="none"/>
<circle cx="972.08" cy="162.42" r="1.5" fill="url(#gP)"/>
<circle cx="972.18" cy="158.82" r="1.5" fill="url(#gP)"/>
<circle cx="972.35" cy="155.22" r="1.5" fill="url(#gP)"/>
<circle cx="972.83" cy="151.66" r="1.5" fill="url(#gP)"/>
<circle cx="973.49" cy="148.13" r="1.5" fill="url(#gP)"/>
<circle cx="974.6" cy="144.7" r="1.5" fill="url(#gP)"/>
<circle cx="975.71" cy="141.28" r="1.5" fill="url(#gP)"/>
<circle cx="977.72" cy="138.33" r="1.5" fill="url(#gP)"/>
<circle cx="979.91" cy="135.47" r="1.5" fill="url(#gP)"/>
<circle cx="982.34" cy="132.96" r="1.5" fill="url(#gP)"/>
<circle cx="985.79" cy="131.93" r="1.5" fill="url(#gP)"/>
<circle cx="989.24" cy="130.91" r="1.5" fill="url(#gP)"/>
<circle cx="992.72" cy="130.59" r="1.5" fill="url(#gP)"/>
<circle cx="996.25" cy="131.31" r="1.5" fill="url(#gP)"/>
<circle cx="999.78" cy="132.02" r="1.5" fill="url(#gP)"/>
<circle cx="1003.24" cy="133.02" r="1.5" fill="url(#gP)"/>
<circle cx="1006.68" cy="134.06" r="1.5" fill="url(#gP)"/>
<circle cx="1010.12" cy="135.11" r="1.5" fill="url(#gP)"/>
<circle cx="1013.54" cy="136.26" r="1.5" fill="url(#gP)"/>
<circle cx="1016.96" cy="136.69" r="1.5" fill="url(#gP)"/>
<circle cx="1020.26" cy="135.38" r="1.5" fill="url(#gP)"/>
<circle cx="1023.15" cy="133.23" r="1.5" fill="url(#gP)"/>
<circle cx="1026.04" cy="131.09" r="1.5" fill="url(#gP)"/>
<circle cx="1028.89" cy="128.89" r="1.5" fill="url(#gP)"/>
<circle cx="1031.48" cy="126.39" r="1.5" fill="url(#gP)"/>
<circle cx="1034.07" cy="123.89" r="1.5" fill="url(#gP)"/>
<circle cx="1036.66" cy="121.39" r="1.5" fill="url(#gP)"/>
<circle cx="1039.15" cy="118.79" r="1.5" fill="url(#gP)"/>
<circle cx="1041.6" cy="116.15" r="1.5" fill="url(#gP)"/>
<circle cx="1044.04" cy="113.51" r="1.5" fill="url(#gP)"/>
<circle cx="1046.49" cy="110.86" r="1.5" fill="url(#gP)"/>
<circle cx="1048.8" cy="108.12" r="1.5" fill="url(#gP)"/>
<circle cx="1050.62" cy="105.02" r="1.5" fill="url(#gP)"/>
<circle cx="1052.45" cy="101.92" r="1.5" fill="url(#gP)"/>
<circle cx="1054.28" cy="98.82" r="1.5" fill="url(#gP)"/>
<circle cx="1056.1" cy="95.71" r="1.5" fill="url(#gP)"/>
<circle cx="1057.93" cy="92.61" r="1.5" fill="url(#gP)"/>
<path d="M974.98,157.71C974.83,156.56 974.16,152.8 974.07,150.81C973.98,148.82 973.98,147.45 974.44,145.77C974.89,144.09 975.58,142.12 976.79,140.72C978,139.32 979.27,138.14 981.69,137.36C984.11,136.57 988.19,135.9 991.3,136.01C994.41,136.13 998.1,137.47 1000.37,138.03C1002.63,138.59 1003.24,139.26 1004.9,139.38C1006.56,139.49 1008.53,139.38 1010.34,138.7C1012.15,138.03 1014.27,136.91 1015.78,135.34C1017.29,133.77 1018.2,132.31 1019.41,129.29C1020.62,126.26 1021.98,122.28 1023.03,117.18C1024.09,112.08 1025,104.57 1025.75,98.68C1026.51,92.79 1027.11,85.23 1027.57,81.86C1028.02,78.5 1028.32,79.06 1028.47,78.5" stroke="#4e16ae" stroke-width="1.0" fill="none"/>
<circle cx="974.98" cy="157.71" r="1.5" fill="url(#gU)"/>
<circle cx="974.51" cy="154.14" r="1.5" fill="url(#gU)"/>
<circle cx="974.09" cy="150.57" r="1.5" fill="url(#gU)"/>
<circle cx="974.35" cy="146.98" r="1.5" fill="url(#gU)"/>
<circle cx="975.45" cy="143.6" r="1.5" fill="url(#gU)"/>
<circle cx="977.14" cy="140.48" r="1.5" fill="url(#gU)"/>
<circle cx="980.11" cy="138.45" r="1.5" fill="url(#gU)"/>
<circle cx="983.35" cy="137.13" r="1.5" fill="url(#gU)"/>
<circle cx="986.92" cy="136.63" r="1.5" fill="url(#gU)"/>
<circle cx="990.48" cy="136.13" r="1.5" fill="url(#gU)"/>
<circle cx="994.01" cy="136.62" r="1.5" fill="url(#gU)"/>
<circle cx="997.52" cy="137.4" r="1.5" fill="url(#gU)"/>
<circle cx="1001.02" cy="138.23" r="1.5" fill="url(#gU)"/>
<circle cx="1004.48" cy="139.25" r="1.5" fill="url(#gU)"/>
<circle cx="1008.03" cy="138.99" r="1.5" fill="url(#gU)"/>
<circle cx="1011.43" cy="138.03" r="1.5" fill="url(#gU)"/>
<circle cx="1014.49" cy="136.14" r="1.5" fill="url(#gU)"/>
<circle cx="1016.85" cy="133.56" r="1.5" fill="url(#gU)"/>
<circle cx="1018.7" cy="130.47" r="1.5" fill="url(#gU)"/>
<circle cx="1020.04" cy="127.16" r="1.5" fill="url(#gU)"/>
<circle cx="1021.08" cy="123.71" r="1.5" fill="url(#gU)"/>
<circle cx="1022.11" cy="120.26" r="1.5" fill="url(#gU)"/>
<circle cx="1023.09" cy="116.8" r="1.5" fill="url(#gU)"/>
<circle cx="1023.61" cy="113.24" r="1.5" fill="url(#gU)"/>
<circle cx="1024.14" cy="109.68" r="1.5" fill="url(#gU)"/>
<circle cx="1024.66" cy="106.11" r="1.5" fill="url(#gU)"/>
<circle cx="1025.18" cy="102.55" r="1.5" fill="url(#gU)"/>
<circle cx="1025.71" cy="98.99" r="1.5" fill="url(#gU)"/>
<circle cx="1026.11" cy="95.41" r="1.5" fill="url(#gU)"/>
<circle cx="1026.49" cy="91.83" r="1.5" fill="url(#gU)"/>
<circle cx="1026.88" cy="88.25" r="1.5" fill="url(#gU)"/>
<circle cx="1027.26" cy="84.67" r="1.5" fill="url(#gU)"/>
<circle cx="1027.77" cy="81.12" r="1.5" fill="url(#gU)"/>
<rect x="950.5" y="78.5" width="108.8" height="100.9" fill="none" stroke="#000" stroke-width="1.3"/>
<line x1="950.5" y1="179.4" x2="950.5" y2="181.9" stroke="#000" stroke-width="1"/>
<text x="950.5" y="190.9" font-size="9" text-anchor="middle">0</text>
<line x1="968.63" y1="179.4" x2="968.63" y2="181.9" stroke="#000" stroke-width="1"/>
<text x="968.63" y="190.9" font-size="9" text-anchor="middle">1</text>
<line x1="986.77" y1="179.4" x2="986.77" y2="181.9" stroke="#000" stroke-width="1"/>
<text x="986.77" y="190.9" font-size="9" text-anchor="middle">2</text>
<line x1="1004.9" y1="179.4" x2="1004.9" y2="181.9" stroke="#000" stroke-width="1"/>
<text x="1004.9" y="190.9" font-size="9" text-anchor="middle">3</text>
<line x1="1023.03" y1="179.4" x2="1023.03" y2="181.9" stroke="#000" stroke-width="1"/>
<text x="1023.03" y="190.9" font-size="9" text-anchor="middle">4</text>
<line x1="1041.17" y1="179.4" x2="1041.17" y2="181.9" stroke="#000" stroke-width="1"/>
<text x="1041.17" y="190.9" font-size="9" text-anchor="middle">5</text>
<line x1="1059.3" y1="179.4" x2="1059.3" y2="181.9" stroke="#000" stroke-width="1"/>
<text x="1059.3" y="190.9" font-size="9" text-anchor="middle">6</text>
<line x1="959.57" y1="179.4" x2="959.57" y2="180.9" stroke="#000" stroke-width="1"/>
<line x1="977.7" y1="179.4" x2="977.7" y2="180.9" stroke="#000" stroke-width="1"/>
<line x1="995.83" y1="179.4" x2="995.83" y2="180.9" stroke="#000" stroke-width="1"/>
<line x1="1013.97" y1="179.4" x2="1013.97" y2="180.9" stroke="#000" stroke-width="1"/>
<line x1="1032.1" y1="179.4" x2="1032.1" y2="180.9" stroke="#000" stroke-width="1"/>
<line x1="1050.23" y1="179.4" x2="1050.23" y2="180.9" stroke="#000" stroke-width="1"/>
<line x1="950.5" y1="78.5" x2="948" y2="78.5" stroke="#000" stroke-width="1"/>
<text x="947" y="81.65" font-size="9" text-anchor="end">4</text>
<line x1="950.5" y1="112.13" x2="948" y2="112.13" stroke="#000" stroke-width="1"/>
<text x="947" y="115.28" font-size="9" text-anchor="end">2</text>
<line x1="950.5" y1="145.77" x2="948" y2="145.77" stroke="#000" stroke-width="1"/>
<text x="947" y="148.92" font-size="9" text-anchor="end">0</text>
<line x1="950.5" y1="179.4" x2="948" y2="179.4" stroke="#000" stroke-width="1"/>
<text x="947" y="182.55" font-size="9" text-anchor="end">-2</text>
<line x1="950.5" y1="95.32" x2="949" y2="95.32" stroke="#000" stroke-width="1"/>
<line x1="950.5" y1="128.95" x2="949" y2="128.95" stroke="#000" stroke-width="1"/>
<line x1="950.5" y1="162.58" x2="949" y2="162.58" stroke="#000" stroke-width="1"/>
<line x1="951.4" y1="84.1" x2="961.2" y2="84.1" stroke="#dfa479" stroke-width="1.0"/>
<circle cx="956.3" cy="84.1" r="1.6" fill="url(#gO)"/>
<text x="961.8" y="86.5" font-size="7">DNH</text>
<line x1="951.4" y1="94.1" x2="961.2" y2="94.1" stroke="#d6569f" stroke-width="1.0"/>
<circle cx="956.3" cy="94.1" r="1.6" fill="url(#gP)"/>
<text x="961.8" y="96.5" font-size="7">rGO/DNH</text>
<line x1="951.4" y1="103.9" x2="961.2" y2="103.9" stroke="#4e16ae" stroke-width="1.0"/>
<circle cx="956.3" cy="103.9" r="1.6" fill="url(#gU)"/>
<text x="961.8" y="106.3" font-size="7">rGO-CMOF/DNH</text>
<text x="0" y="0" font-size="9.5" text-anchor="middle" transform="translate(936.34,130.5) rotate(-90)">-Z'' (ohm)</text>
<text x="1005" y="200.5" font-size="8.5" text-anchor="middle">Z' (ohm)</text>
<text x="0" y="0" font-size="15.3" text-anchor="middle" transform="translate(827.45,121) rotate(-90)">-Z'' (ohm)</text>
<text x="0" y="0" font-size="15.5" text-anchor="middle" transform="translate(970.8,236) scale(0.94,1)">Z' (ohm)</text>
<text x="810.2" y="27.1" font-size="24">(d)</text>
<g fill="none" stroke-linejoin="round">
<path d="M59.5,417.2 L59.28,414.19 L59.09,411.18 L58.93,408.16 L58.79,405.15 L58.68,402.14 L58.6,399.13 L58.54,396.12 L58.5,393.11 L58.48,390.09 L58.49,387.08 L58.52,384.07 L58.57,381.06 L58.63,378.05 L58.72,375.03 L58.83,372.02 L58.95,369.01 L59.1,366 L59.25,362.99 L59.43,359.97 L59.62,356.96 L59.82,353.95 L60.04,350.94 L60.27,347.93 L60.51,344.92 L60.76,341.9 L61.02,338.89 L61.3,335.88 L61.58,332.87 L61.87,329.86 L62.17,326.84 L62.48,323.83 L62.79,320.82 L63.11,317.81 L63.44,314.8 L63.77,311.78 L64.1,308.77 L64.44,305.76 L64.77,302.75 L65.11,299.74 L65.45,296.73 L65.79,293.71 L66.13,290.7 L66.47,287.69 L66.81,284.68 L67.14,281.67 L67.47,278.65 L67.79,275.64 L68.12,272.63 L68.43,269.62 L68.74,266.61 L69.04,263.59 L69.34,260.58 L69.62,257.57 L69.9,254.56 L70.16,251.55 L70.42,248.54 L70.67,245.52 L70.9,242.51 L71.12,239.5" stroke="#2e9160" stroke-width="1.9" fill="none"/>
<path d="M71.12,239.5 L71.18,242.51 L71.24,245.52 L71.31,248.54 L71.39,251.55 L71.48,254.56 L71.58,257.57 L71.68,260.58 L71.79,263.59 L71.91,266.61 L72.03,269.62 L72.16,272.63 L72.3,275.64 L72.44,278.65 L72.59,281.67 L72.75,284.68 L72.91,287.69 L73.08,290.7 L73.25,293.71 L73.43,296.73 L73.61,299.74 L73.8,302.75 L74,305.76 L74.19,308.77 L74.4,311.78 L74.6,314.8 L74.82,317.81 L75.03,320.82 L75.25,323.83 L75.48,326.84 L75.7,329.86 L75.93,332.87 L76.17,335.88 L76.41,338.89 L76.65,341.9 L76.89,344.92 L77.14,347.93 L77.39,350.94 L77.64,353.95 L77.89,356.96 L78.15,359.97 L78.4,362.99 L78.66,366 L78.93,369.01 L79.19,372.02 L79.45,375.03 L79.72,378.05 L79.98,381.06 L80.25,384.07 L80.52,387.08 L80.79,390.09 L81.06,393.11 L81.32,396.12 L81.59,399.13 L81.86,402.14 L82.13,405.15 L82.4,408.16 L82.67,411.18 L82.93,414.19 L83.2,417.2" stroke="#2e9160" stroke-width="1.9" fill="none"/>
<path d="M59.5,417.2 L59.25,414.19 L59.04,411.18 L58.86,408.16 L58.72,405.15 L58.61,402.14 L58.54,399.13 L58.5,396.12 L58.49,393.11 L58.51,390.09 L58.57,387.08 L58.66,384.07 L58.77,381.06 L58.91,378.05 L59.09,375.03 L59.28,372.02 L59.51,369.01 L59.76,366 L60.03,362.99 L60.33,359.97 L60.65,356.96 L60.99,353.95 L61.35,350.94 L61.74,347.93 L62.14,344.92 L62.56,341.9 L63,338.89 L63.45,335.88 L63.93,332.87 L64.41,329.86 L64.91,326.84 L65.43,323.83 L65.96,320.82 L66.5,317.81 L67.05,314.8 L67.61,311.78 L68.18,308.77 L68.76,305.76 L69.35,302.75 L69.94,299.74 L70.54,296.73 L71.15,293.71 L71.76,290.7 L72.37,287.69 L72.99,284.68 L73.61,281.67 L74.23,278.65 L74.85,275.64 L75.47,272.63 L76.09,269.62 L76.71,266.61 L77.32,263.59 L77.94,260.58 L78.54,257.57 L79.14,254.56 L79.74,251.55 L80.33,248.54 L80.91,245.52 L81.48,242.51 L82.04,239.5" stroke="#3271c0" stroke-width="1.9" fill="none"/>
<path d="M82.04,239.5 L82.05,242.51 L82.07,245.52 L82.11,248.54 L82.17,251.55 L82.25,254.56 L82.35,257.57 L82.46,260.58 L82.59,263.59 L82.74,266.61 L82.9,269.62 L83.08,272.63 L83.28,275.64 L83.49,278.65 L83.71,281.67 L83.95,284.68 L84.21,287.69 L84.48,290.7 L84.76,293.71 L85.05,296.73 L85.36,299.74 L85.69,302.75 L86.02,305.76 L86.37,308.77 L86.73,311.78 L87.1,314.8 L87.48,317.81 L87.88,320.82 L88.28,323.83 L88.7,326.84 L89.12,329.86 L89.56,332.87 L90,335.88 L90.46,338.89 L90.92,341.9 L91.39,344.92 L91.88,347.93 L92.36,350.94 L92.86,353.95 L93.37,356.96 L93.88,359.97 L94.4,362.99 L94.92,366 L95.45,369.01 L95.99,372.02 L96.53,375.03 L97.08,378.05 L97.64,381.06 L98.19,384.07 L98.76,387.08 L99.33,390.09 L99.9,393.11 L100.47,396.12 L101.05,399.13 L101.63,402.14 L102.22,405.15 L102.8,408.16 L103.39,411.18 L103.98,414.19 L104.57,417.2" stroke="#3271c0" stroke-width="1.9" fill="none"/>
<path d="M59.5,417.2 L59.17,414.19 L58.91,411.18 L58.72,408.16 L58.59,405.15 L58.52,402.14 L58.51,399.13 L58.56,396.12 L58.66,393.11 L58.82,390.09 L59.04,387.08 L59.3,384.07 L59.61,381.06 L59.97,378.05 L60.38,375.03 L60.82,372.02 L61.31,369.01 L61.84,366 L62.41,362.99 L63.01,359.97 L63.64,356.96 L64.31,353.95 L65.01,350.94 L65.73,347.93 L66.49,344.92 L67.26,341.9 L68.06,338.89 L68.88,335.88 L69.72,332.87 L70.58,329.86 L71.45,326.84 L72.34,323.83 L73.24,320.82 L74.15,317.81 L75.06,314.8 L75.98,311.78 L76.91,308.77 L77.83,305.76 L78.76,302.75 L79.69,299.74 L80.61,296.73 L81.53,293.71 L82.44,290.7 L83.34,287.69 L84.23,284.68 L85.11,281.67 L85.98,278.65 L86.82,275.64 L87.65,272.63 L88.46,269.62 L89.25,266.61 L90.01,263.59 L90.75,260.58 L91.46,257.57 L92.14,254.56 L92.79,251.55 L93.41,248.54 L93.99,245.52 L94.54,242.51 L95.04,239.5" stroke="#cf4a44" stroke-width="1.9" fill="none"/>
<path d="M95.04,239.5 L95.4,242.51 L95.75,245.52 L96.08,248.54 L96.39,251.55 L96.7,254.56 L96.99,257.57 L97.28,260.58 L97.56,263.59 L97.83,266.61 L98.1,269.62 L98.37,272.63 L98.63,275.64 L98.9,278.65 L99.17,281.67 L99.44,284.68 L99.72,287.69 L100,290.7 L100.29,293.71 L100.59,296.73 L100.9,299.74 L101.22,302.75 L101.56,305.76 L101.91,308.77 L102.27,311.78 L102.66,314.8 L103.07,317.81 L103.49,320.82 L103.95,323.83 L104.42,326.84 L104.92,329.86 L105.45,332.87 L106,335.88 L106.59,338.89 L107.21,341.9 L107.86,344.92 L108.54,347.93 L109.27,350.94 L110.03,353.95 L110.82,356.96 L111.66,359.97 L112.55,362.99 L113.47,366 L114.44,369.01 L115.46,372.02 L116.52,375.03 L117.64,378.05 L118.8,381.06 L120.02,384.07 L121.29,387.08 L122.62,390.09 L124.01,393.11 L125.45,396.12 L126.95,399.13 L128.52,402.14 L130.15,405.15 L131.84,408.16 L133.6,411.18 L135.43,414.19 L137.32,417.2" stroke="#cf4a44" stroke-width="1.9" fill="none"/>
<path d="M59.5,417.2 L59.4,414.19 L59.38,411.18 L59.43,408.16 L59.57,405.15 L59.78,402.14 L60.07,399.13 L60.43,396.12 L60.85,393.11 L61.35,390.09 L61.92,387.08 L62.54,384.07 L63.23,381.06 L63.99,378.05 L64.8,375.03 L65.67,372.02 L66.59,369.01 L67.57,366 L68.59,362.99 L69.67,359.97 L70.79,356.96 L71.96,353.95 L73.18,350.94 L74.43,347.93 L75.73,344.92 L77.06,341.9 L78.43,338.89 L79.83,335.88 L81.27,332.87 L82.73,329.86 L84.23,326.84 L85.75,323.83 L87.29,320.82 L88.86,317.81 L90.45,314.8 L92.06,311.78 L93.68,308.77 L95.32,305.76 L96.97,302.75 L98.63,299.74 L100.31,296.73 L101.99,293.71 L103.67,290.7 L105.36,287.69 L107.05,284.68 L108.74,281.67 L110.43,278.65 L112.11,275.64 L113.79,272.63 L115.46,269.62 L117.12,266.61 L118.76,263.59 L120.4,260.58 L122.02,257.57 L123.62,254.56 L125.2,251.55 L126.76,248.54 L128.3,245.52 L129.81,242.51 L131.29,239.5" stroke="#000" stroke-width="2.2" fill="none"/>
<path d="M131.29,239.5 L131.6,242.51 L131.91,245.52 L132.23,248.54 L132.55,251.55 L132.88,254.56 L133.23,257.57 L133.58,260.58 L133.94,263.59 L134.32,266.61 L134.71,269.62 L135.12,272.63 L135.55,275.64 L136,278.65 L136.46,281.67 L136.96,284.68 L137.47,287.69 L138.01,290.7 L138.58,293.71 L139.18,296.73 L139.81,299.74 L140.47,302.75 L141.16,305.76 L141.89,308.77 L142.66,311.78 L143.46,314.8 L144.3,317.81 L145.18,320.82 L146.11,323.83 L147.08,326.84 L148.09,329.86 L149.15,332.87 L150.26,335.88 L151.42,338.89 L152.63,341.9 L153.89,344.92 L155.21,347.93 L156.58,350.94 L158.02,353.95 L159.51,356.96 L161.07,359.97 L162.71,362.99 L164.43,366 L166.24,369.01 L168.15,372.02 L170.17,375.03 L172.29,378.05 L174.54,381.06 L176.91,384.07 L179.41,387.08 L182.06,390.09 L184.85,393.11 L187.82,396.12 L191.08,399.13 L194.72,402.14 L198.83,405.15 L203.53,408.16 L208.91,411.18 L215.07,414.19 L222.12,417.2" stroke="#000" stroke-width="2.2" fill="none"/>
</g>
<rect x="59.5" y="239.5" width="209.1" height="177.7" fill="none" stroke="#000" stroke-width="1.9"/>
<line x1="59.5" y1="417.2" x2="59.5" y2="420.7" stroke="#000" stroke-width="1.4"/>
<text x="0" y="0" font-size="11.5" text-anchor="middle" transform="translate(59.5,432.7) scale(0.93,1)">0</text>
<line x1="105.97" y1="417.2" x2="105.97" y2="420.7" stroke="#000" stroke-width="1.4"/>
<text x="0" y="0" font-size="11.5" text-anchor="middle" transform="translate(105.97,432.7) scale(0.93,1)">200</text>
<line x1="152.43" y1="417.2" x2="152.43" y2="420.7" stroke="#000" stroke-width="1.4"/>
<text x="0" y="0" font-size="11.5" text-anchor="middle" transform="translate(152.43,432.7) scale(0.93,1)">400</text>
<line x1="198.9" y1="417.2" x2="198.9" y2="420.7" stroke="#000" stroke-width="1.4"/>
<text x="0" y="0" font-size="11.5" text-anchor="middle" transform="translate(198.9,432.7) scale(0.93,1)">600</text>
<line x1="245.37" y1="417.2" x2="245.37" y2="420.7" stroke="#000" stroke-width="1.4"/>
<text x="0" y="0" font-size="11.5" text-anchor="middle" transform="translate(245.37,432.7) scale(0.93,1)">800</text>
<line x1="82.73" y1="417.2" x2="82.73" y2="419.2" stroke="#000" stroke-width="1.4"/>
<line x1="129.2" y1="417.2" x2="129.2" y2="419.2" stroke="#000" stroke-width="1.4"/>
<line x1="175.67" y1="417.2" x2="175.67" y2="419.2" stroke="#000" stroke-width="1.4"/>
<line x1="222.13" y1="417.2" x2="222.13" y2="419.2" stroke="#000" stroke-width="1.4"/>
<line x1="59.5" y1="239.5" x2="56" y2="239.5" stroke="#000" stroke-width="1.4"/>
<text x="0" y="0" font-size="11.5" text-anchor="end" transform="translate(53.8,243.53) scale(0.93,1)">-0.2</text>
<line x1="59.5" y1="275.04" x2="56" y2="275.04" stroke="#000" stroke-width="1.4"/>
<text x="0" y="0" font-size="11.5" text-anchor="end" transform="translate(53.8,279.06) scale(0.93,1)">-0.4</text>
<line x1="59.5" y1="310.58" x2="56" y2="310.58" stroke="#000" stroke-width="1.4"/>
<text x="0" y="0" font-size="11.5" text-anchor="end" transform="translate(53.8,314.6) scale(0.93,1)">-0.6</text>
<line x1="59.5" y1="346.12" x2="56" y2="346.12" stroke="#000" stroke-width="1.4"/>
<text x="0" y="0" font-size="11.5" text-anchor="end" transform="translate(53.8,350.14) scale(0.93,1)">-0.8</text>
<line x1="59.5" y1="381.66" x2="56" y2="381.66" stroke="#000" stroke-width="1.4"/>
<text x="0" y="0" font-size="11.5" text-anchor="end" transform="translate(53.8,385.68) scale(0.93,1)">-1.0</text>
<line x1="59.5" y1="417.2" x2="56" y2="417.2" stroke="#000" stroke-width="1.4"/>
<text x="0" y="0" font-size="11.5" text-anchor="end" transform="translate(53.8,421.22) scale(0.93,1)">-1.2</text>
<line x1="59.5" y1="257.27" x2="57.5" y2="257.27" stroke="#000" stroke-width="1.4"/>
<line x1="59.5" y1="292.81" x2="57.5" y2="292.81" stroke="#000" stroke-width="1.4"/>
<line x1="59.5" y1="328.35" x2="57.5" y2="328.35" stroke="#000" stroke-width="1.4"/>
<line x1="59.5" y1="363.89" x2="57.5" y2="363.89" stroke="#000" stroke-width="1.4"/>
<line x1="59.5" y1="399.43" x2="57.5" y2="399.43" stroke="#000" stroke-width="1.4"/>
<line x1="218.9" y1="246.1" x2="239.8" y2="246.1" stroke="#000" stroke-width="1.9"/>
<text x="241.2" y="249.9" font-size="11.3">1 A/g</text>
<line x1="218.9" y1="260.8" x2="239.8" y2="260.8" stroke="#cf4a44" stroke-width="1.9"/>
<text x="241.2" y="264.6" font-size="11.3">2 A/g</text>
<line x1="218.9" y1="275" x2="239.8" y2="275" stroke="#3271c0" stroke-width="1.9"/>
<text x="241.2" y="278.8" font-size="11.3">3 A/g</text>
<line x1="218.9" y1="289" x2="239.8" y2="289" stroke="#2e9160" stroke-width="1.9"/>
<text x="241.2" y="292.8" font-size="11.3">5 A/g</text>
<rect x="184.5" y="296.6" width="78.4" height="73.4" fill="#fff"/>
<g fill="none">
<path d="M184.5,358.99C185.59,357.16 187.98,353.24 191.03,347.98C194.08,342.72 197.78,335.99 202.79,327.43C207.8,318.86 218.04,301.74 221.09,296.6" stroke="#e8a234" stroke-width="1.2" fill="none"/>
<path d="M221.09,296.6C221.17,297.82 221.17,301.25 221.61,303.94C222.04,306.63 222.26,308.83 223.7,312.75C225.14,316.66 227.62,322.41 230.23,327.43C232.85,332.44 236.11,337.83 239.38,342.84C242.65,347.86 246.57,353 249.83,357.52C253.1,362.05 257.46,367.92 258.98,370" stroke="#e8a234" stroke-width="1.2" fill="none"/>
<path d="M184.5,358.99C185.15,357.52 186.24,355.44 188.42,350.18C190.6,344.92 193.86,336.36 197.57,327.43C201.27,318.5 208.46,301.74 210.63,296.6" stroke="#8a2be2" stroke-width="1.2" fill="none"/>
<path d="M210.63,296.6C210.74,298.44 210.85,303.94 211.29,307.61C211.72,311.28 212.27,314.83 213.25,318.62C214.23,322.41 215.42,325.96 217.17,330.36C218.91,334.77 221.52,340.52 223.7,345.04C225.88,349.57 228.06,353.36 230.23,357.52C232.41,361.68 235.68,367.92 236.77,370" stroke="#8a2be2" stroke-width="1.2" fill="none"/>
<line x1="184.5" y1="370" x2="184.5" y2="358.99" stroke="#8a2be2" stroke-width="1.2"/>
</g>
<rect x="184.5" y="296.6" width="78.4" height="73.4" fill="none" stroke="#000" stroke-width="1.2"/>
<line x1="184.5" y1="370" x2="184.5" y2="372" stroke="#000" stroke-width="0.9"/>
<text x="184.5" y="379.5" font-size="8" text-anchor="middle">0</text>
<line x1="197.57" y1="370" x2="197.57" y2="372" stroke="#000" stroke-width="0.9"/>
<text x="197.57" y="379.5" font-size="8" text-anchor="middle">10</text>
<line x1="210.63" y1="370" x2="210.63" y2="372" stroke="#000" stroke-width="0.9"/>
<text x="210.63" y="379.5" font-size="8" text-anchor="middle">20</text>
<line x1="223.7" y1="370" x2="223.7" y2="372" stroke="#000" stroke-width="0.9"/>
<text x="223.7" y="379.5" font-size="8" text-anchor="middle">30</text>
<line x1="236.77" y1="370" x2="236.77" y2="372" stroke="#000" stroke-width="0.9"/>
<text x="236.77" y="379.5" font-size="8" text-anchor="middle">40</text>
<line x1="249.83" y1="370" x2="249.83" y2="372" stroke="#000" stroke-width="0.9"/>
<text x="249.83" y="379.5" font-size="8" text-anchor="middle">50</text>
<line x1="262.9" y1="370" x2="262.9" y2="372" stroke="#000" stroke-width="0.9"/>
<text x="262.9" y="379.5" font-size="8" text-anchor="middle">60</text>
<line x1="184.5" y1="296.6" x2="182.5" y2="296.6" stroke="#000" stroke-width="0.9"/>
<text x="182" y="299.4" font-size="8" text-anchor="end">-0.2</text>
<line x1="184.5" y1="311.28" x2="182.5" y2="311.28" stroke="#000" stroke-width="0.9"/>
<text x="182" y="314.08" font-size="8" text-anchor="end">-0.4</text>
<line x1="184.5" y1="325.96" x2="182.5" y2="325.96" stroke="#000" stroke-width="0.9"/>
<text x="182" y="328.76" font-size="8" text-anchor="end">-0.6</text>
<line x1="184.5" y1="340.64" x2="182.5" y2="340.64" stroke="#000" stroke-width="0.9"/>
<text x="182" y="343.44" font-size="8" text-anchor="end">-0.8</text>
<line x1="184.5" y1="355.32" x2="182.5" y2="355.32" stroke="#000" stroke-width="0.9"/>
<text x="182" y="358.12" font-size="8" text-anchor="end">-1.0</text>
<line x1="184.5" y1="370" x2="182.5" y2="370" stroke="#000" stroke-width="0.9"/>
<text x="182" y="372.8" font-size="8" text-anchor="end">-1.2</text>
<line x1="223.2" y1="307.7" x2="231.4" y2="307.7" stroke="#e8a234" stroke-width="1.3"/>
<text x="231.6" y="311" font-size="9.5">8 A/g</text>
<line x1="223.8" y1="321" x2="233.4" y2="321" stroke="#8a2be2" stroke-width="1.3"/>
<text x="233.6" y="322.2" font-size="9.5">10 A/g</text>
<text x="0" y="0" font-size="9" text-anchor="middle" transform="translate(166.37,326.8) rotate(-90)">Potential (V)</text>
<text x="227.5" y="389.6" font-size="9" text-anchor="middle">Time (s)</text>
<text x="0" y="0" font-size="15.3" text-anchor="middle" transform="translate(26.65,321.6) rotate(-90)">Potential (V)</text>
<text x="0" y="0" font-size="15.5" text-anchor="middle" transform="translate(163.2,451.7) scale(0.94,1)">Time (s)</text>
<text x="11.1" y="236.5" font-size="24">(e)</text>
<path d="M343.29,385.54 L362.39,390.43 L381.48,397.53 L419.67,402.86 L476.95,408.19 L515.14,411.74" stroke="#dfa479" stroke-width="2.0" fill="none"/>
<circle cx="343.29" cy="385.54" r="4.4" fill="url(#gO)"/>
<circle cx="362.39" cy="390.43" r="4.4" fill="url(#gO)"/>
<circle cx="381.48" cy="397.53" r="4.4" fill="url(#gO)"/>
<circle cx="419.67" cy="402.86" r="4.4" fill="url(#gO)"/>
<circle cx="476.95" cy="408.19" r="4.4" fill="url(#gO)"/>
<circle cx="515.14" cy="411.74" r="4.4" fill="url(#gO)"/>
<path d="M343.29,308.29 L362.39,324.72 L381.48,342.92 L419.67,351.8 L476.95,366.01 L515.14,376.22" stroke="#d6569f" stroke-width="2.0" fill="none"/>
<circle cx="343.29" cy="308.29" r="4.4" fill="url(#gP)"/>
<circle cx="362.39" cy="324.72" r="4.4" fill="url(#gP)"/>
<circle cx="381.48" cy="342.92" r="4.4" fill="url(#gP)"/>
<circle cx="419.67" cy="351.8" r="4.4" fill="url(#gP)"/>
<circle cx="476.95" cy="366.01" r="4.4" fill="url(#gP)"/>
<circle cx="515.14" cy="376.22" r="4.4" fill="url(#gP)"/>
<path d="M343.29,255.45 L362.39,265.22 L381.48,289.64 L419.67,307.4 L476.95,326.49 L515.14,331.82" stroke="#4e16ae" stroke-width="2.0" fill="none"/>
<circle cx="343.29" cy="255.45" r="4.4" fill="url(#gU)"/>
<circle cx="362.39" cy="265.22" r="4.4" fill="url(#gU)"/>
<circle cx="381.48" cy="289.64" r="4.4" fill="url(#gU)"/>
<circle cx="419.67" cy="307.4" r="4.4" fill="url(#gU)"/>
<circle cx="476.95" cy="326.49" r="4.4" fill="url(#gU)"/>
<circle cx="515.14" cy="331.82" r="4.4" fill="url(#gU)"/>
<rect x="324.2" y="241.6" width="210.8" height="176.2" fill="none" stroke="#000" stroke-width="1.9"/>
<line x1="324.2" y1="417.8" x2="324.2" y2="421.3" stroke="#000" stroke-width="1.4"/>
<text x="0" y="0" font-size="11.5" text-anchor="middle" transform="translate(324.2,432.8) scale(0.93,1)">0</text>
<line x1="362.39" y1="417.8" x2="362.39" y2="421.3" stroke="#000" stroke-width="1.4"/>
<text x="0" y="0" font-size="11.5" text-anchor="middle" transform="translate(362.39,432.8) scale(0.93,1)">2</text>
<line x1="400.58" y1="417.8" x2="400.58" y2="421.3" stroke="#000" stroke-width="1.4"/>
<text x="0" y="0" font-size="11.5" text-anchor="middle" transform="translate(400.58,432.8) scale(0.93,1)">4</text>
<line x1="438.77" y1="417.8" x2="438.77" y2="421.3" stroke="#000" stroke-width="1.4"/>
<text x="0" y="0" font-size="11.5" text-anchor="middle" transform="translate(438.77,432.8) scale(0.93,1)">6</text>
<line x1="476.95" y1="417.8" x2="476.95" y2="421.3" stroke="#000" stroke-width="1.4"/>
<text x="0" y="0" font-size="11.5" text-anchor="middle" transform="translate(476.95,432.8) scale(0.93,1)">8</text>
<line x1="515.14" y1="417.8" x2="515.14" y2="421.3" stroke="#000" stroke-width="1.4"/>
<text x="0" y="0" font-size="11.5" text-anchor="middle" transform="translate(515.14,432.8) scale(0.93,1)">10</text>
<line x1="343.29" y1="417.8" x2="343.29" y2="419.8" stroke="#000" stroke-width="1.4"/>
<line x1="381.48" y1="417.8" x2="381.48" y2="419.8" stroke="#000" stroke-width="1.4"/>
<line x1="419.67" y1="417.8" x2="419.67" y2="419.8" stroke="#000" stroke-width="1.4"/>
<line x1="457.86" y1="417.8" x2="457.86" y2="419.8" stroke="#000" stroke-width="1.4"/>
<line x1="496.05" y1="417.8" x2="496.05" y2="419.8" stroke="#000" stroke-width="1.4"/>
<line x1="324.2" y1="385.1" x2="320.7" y2="385.1" stroke="#000" stroke-width="1.4"/>
<text x="0" y="0" font-size="11.5" text-anchor="end" transform="translate(318.8,389.12) scale(0.93,1)">100</text>
<line x1="324.2" y1="340.7" x2="320.7" y2="340.7" stroke="#000" stroke-width="1.4"/>
<text x="0" y="0" font-size="11.5" text-anchor="end" transform="translate(318.8,344.73) scale(0.93,1)">200</text>
<line x1="324.2" y1="296.3" x2="320.7" y2="296.3" stroke="#000" stroke-width="1.4"/>
<text x="0" y="0" font-size="11.5" text-anchor="end" transform="translate(318.8,300.33) scale(0.93,1)">300</text>
<line x1="324.2" y1="251.9" x2="320.7" y2="251.9" stroke="#000" stroke-width="1.4"/>
<text x="0" y="0" font-size="11.5" text-anchor="end" transform="translate(318.8,255.93) scale(0.93,1)">400</text>
<line x1="324.2" y1="407.3" x2="322.2" y2="407.3" stroke="#000" stroke-width="1.4"/>
<line x1="324.2" y1="362.9" x2="322.2" y2="362.9" stroke="#000" stroke-width="1.4"/>
<line x1="324.2" y1="318.5" x2="322.2" y2="318.5" stroke="#000" stroke-width="1.4"/>
<line x1="324.2" y1="274.1" x2="322.2" y2="274.1" stroke="#000" stroke-width="1.4"/>
<line x1="420" y1="261.1" x2="438" y2="261.1" stroke="#dfa479" stroke-width="1.8"/>
<circle cx="429.4" cy="261.1" r="4" fill="url(#gO)"/>
<text x="439" y="264.7" font-size="10.5">DNH</text>
<line x1="420" y1="274.7" x2="438" y2="274.7" stroke="#d6569f" stroke-width="1.8"/>
<circle cx="429.4" cy="274.7" r="4" fill="url(#gP)"/>
<text x="439" y="278.3" font-size="10.5">rGO/DNH</text>
<line x1="420" y1="287.9" x2="438" y2="287.9" stroke="#4e16ae" stroke-width="1.8"/>
<circle cx="429.4" cy="287.9" r="4" fill="url(#gU)"/>
<text x="439" y="291.5" font-size="10.5">rGO-CMOF/DNH</text>
<text x="0" y="0" font-size="15.3" text-anchor="middle" transform="translate(291.65,327) rotate(-90)">Specific capacitance (F g<tspan dy="-5" font-size="9">-1</tspan><tspan dy="5">)</tspan></text>
<text x="0" y="0" font-size="15.5" text-anchor="middle" transform="translate(424.4,452.8) scale(0.94,1)">Current density (A g<tspan dy="-5" font-size="9">-1</tspan><tspan dy="5">)</tspan></text>
<text x="269.7" y="237.2" font-size="24">(f)</text>
<path d="M663.9,329.7 L684.8,334.9 L705.7,343.6 L718.6,348.2 L733.5,358.3 L748.2,367 L754.8,376.7" stroke="#dfa479" stroke-width="2.0" fill="none" stroke-dasharray="5 2.2"/>
<circle cx="663.9" cy="329.7" r="4.4" fill="url(#gO)"/>
<circle cx="684.8" cy="334.9" r="4.4" fill="url(#gO)"/>
<circle cx="705.7" cy="343.6" r="4.4" fill="url(#gO)"/>
<circle cx="718.6" cy="348.2" r="4.4" fill="url(#gO)"/>
<circle cx="733.5" cy="358.3" r="4.4" fill="url(#gO)"/>
<circle cx="748.2" cy="367" r="4.4" fill="url(#gO)"/>
<circle cx="754.8" cy="376.7" r="4.4" fill="url(#gO)"/>
<path d="M659.7,302.2 L681.3,310.6 L702.2,328 L714.7,333.2 L730.4,339.5 L744.3,341.9 L755.8,348.9" stroke="#d6569f" stroke-width="2.0" fill="none" stroke-dasharray="5 2.2"/>
<circle cx="659.7" cy="302.2" r="4.4" fill="url(#gP)"/>
<circle cx="681.3" cy="310.6" r="4.4" fill="url(#gP)"/>
<circle cx="702.2" cy="328" r="4.4" fill="url(#gP)"/>
<circle cx="714.7" cy="333.2" r="4.4" fill="url(#gP)"/>
<circle cx="730.4" cy="339.5" r="4.4" fill="url(#gP)"/>
<circle cx="744.3" cy="341.9" r="4.4" fill="url(#gP)"/>
<circle cx="755.8" cy="348.9" r="4.4" fill="url(#gP)"/>
<path d="M656.2,272.2 L677.8,295.9 L699.4,307.1 L711.6,322 L726.6,330 L741.5,335 L755.8,342.6" stroke="#4e16ae" stroke-width="2.0" fill="none" stroke-dasharray="5 2.2"/>
<circle cx="656.2" cy="272.2" r="4.4" fill="url(#gU)"/>
<circle cx="677.8" cy="295.9" r="4.4" fill="url(#gU)"/>
<circle cx="699.4" cy="307.1" r="4.4" fill="url(#gU)"/>
<circle cx="711.6" cy="322" r="4.4" fill="url(#gU)"/>
<circle cx="726.6" cy="330" r="4.4" fill="url(#gU)"/>
<circle cx="741.5" cy="335" r="4.4" fill="url(#gU)"/>
<circle cx="755.8" cy="342.6" r="4.4" fill="url(#gU)"/>
<rect x="596.5" y="239.6" width="210.3" height="178.2" fill="none" stroke="#000" stroke-width="1.9"/>
<line x1="596.5" y1="417.8" x2="596.5" y2="421.3" stroke="#000" stroke-width="1.4"/>
<text x="597.5" y="435" font-size="11.5" text-anchor="middle">10<tspan dy="-5" font-size="7.5">2</tspan></text>
<line x1="666.6" y1="417.8" x2="666.6" y2="421.3" stroke="#000" stroke-width="1.4"/>
<text x="667.6" y="435" font-size="11.5" text-anchor="middle">10<tspan dy="-5" font-size="7.5">3</tspan></text>
<line x1="736.7" y1="417.8" x2="736.7" y2="421.3" stroke="#000" stroke-width="1.4"/>
<text x="737.7" y="435" font-size="11.5" text-anchor="middle">10<tspan dy="-5" font-size="7.5">4</tspan></text>
<line x1="806.8" y1="417.8" x2="806.8" y2="421.3" stroke="#000" stroke-width="1.4"/>
<text x="807.8" y="435" font-size="11.5" text-anchor="middle">10<tspan dy="-5" font-size="7.5">5</tspan></text>
<line x1="617.6" y1="417.8" x2="617.6" y2="419.6" stroke="#000" stroke-width="1"/>
<line x1="629.95" y1="417.8" x2="629.95" y2="419.6" stroke="#000" stroke-width="1"/>
<line x1="638.7" y1="417.8" x2="638.7" y2="419.6" stroke="#000" stroke-width="1"/>
<line x1="645.5" y1="417.8" x2="645.5" y2="419.6" stroke="#000" stroke-width="1"/>
<line x1="651.05" y1="417.8" x2="651.05" y2="419.6" stroke="#000" stroke-width="1"/>
<line x1="655.74" y1="417.8" x2="655.74" y2="419.6" stroke="#000" stroke-width="1"/>
<line x1="659.81" y1="417.8" x2="659.81" y2="419.6" stroke="#000" stroke-width="1"/>
<line x1="663.39" y1="417.8" x2="663.39" y2="419.6" stroke="#000" stroke-width="1"/>
<line x1="687.7" y1="417.8" x2="687.7" y2="419.6" stroke="#000" stroke-width="1"/>
<line x1="700.05" y1="417.8" x2="700.05" y2="419.6" stroke="#000" stroke-width="1"/>
<line x1="708.8" y1="417.8" x2="708.8" y2="419.6" stroke="#000" stroke-width="1"/>
<line x1="715.6" y1="417.8" x2="715.6" y2="419.6" stroke="#000" stroke-width="1"/>
<line x1="721.15" y1="417.8" x2="721.15" y2="419.6" stroke="#000" stroke-width="1"/>
<line x1="725.84" y1="417.8" x2="725.84" y2="419.6" stroke="#000" stroke-width="1"/>
<line x1="729.91" y1="417.8" x2="729.91" y2="419.6" stroke="#000" stroke-width="1"/>
<line x1="733.49" y1="417.8" x2="733.49" y2="419.6" stroke="#000" stroke-width="1"/>
<line x1="757.8" y1="417.8" x2="757.8" y2="419.6" stroke="#000" stroke-width="1"/>
<line x1="770.15" y1="417.8" x2="770.15" y2="419.6" stroke="#000" stroke-width="1"/>
<line x1="778.9" y1="417.8" x2="778.9" y2="419.6" stroke="#000" stroke-width="1"/>
<line x1="785.7" y1="417.8" x2="785.7" y2="419.6" stroke="#000" stroke-width="1"/>
<line x1="791.25" y1="417.8" x2="791.25" y2="419.6" stroke="#000" stroke-width="1"/>
<line x1="795.94" y1="417.8" x2="795.94" y2="419.6" stroke="#000" stroke-width="1"/>
<line x1="800.01" y1="417.8" x2="800.01" y2="419.6" stroke="#000" stroke-width="1"/>
<line x1="803.59" y1="417.8" x2="803.59" y2="419.6" stroke="#000" stroke-width="1"/>
<line x1="596.5" y1="417.8" x2="593" y2="417.8" stroke="#000" stroke-width="1.4"/>
<text x="0" y="0" font-size="11.5" text-anchor="end" transform="translate(590.3,421.82) scale(0.93,1)">0</text>
<line x1="596.5" y1="358.4" x2="593" y2="358.4" stroke="#000" stroke-width="1.4"/>
<text x="0" y="0" font-size="11.5" text-anchor="end" transform="translate(590.3,362.42) scale(0.93,1)">10</text>
<line x1="596.5" y1="299" x2="593" y2="299" stroke="#000" stroke-width="1.4"/>
<text x="0" y="0" font-size="11.5" text-anchor="end" transform="translate(590.3,303.02) scale(0.93,1)">20</text>
<line x1="596.5" y1="239.6" x2="593" y2="239.6" stroke="#000" stroke-width="1.4"/>
<text x="0" y="0" font-size="11.5" text-anchor="end" transform="translate(590.3,243.62) scale(0.93,1)">30</text>
<line x1="596.5" y1="388.1" x2="594.5" y2="388.1" stroke="#000" stroke-width="1.4"/>
<line x1="596.5" y1="328.7" x2="594.5" y2="328.7" stroke="#000" stroke-width="1.4"/>
<line x1="596.5" y1="269.3" x2="594.5" y2="269.3" stroke="#000" stroke-width="1.4"/>
<line x1="612.3" y1="361.8" x2="632.5" y2="361.8" stroke="#dfa479" stroke-width="2.0" stroke-dasharray="4 2.5"/>
<circle cx="622.8" cy="361.8" r="4.4" fill="url(#gO)"/>
<text x="636" y="365.6" font-size="11">DNH</text>
<line x1="612.3" y1="375.7" x2="632.5" y2="375.7" stroke="#d6569f" stroke-width="2.0" stroke-dasharray="4 2.5"/>
<circle cx="622.8" cy="375.7" r="4.4" fill="url(#gP)"/>
<text x="636" y="379.5" font-size="11">rGO/DNH</text>
<line x1="612.3" y1="390.7" x2="632.5" y2="390.7" stroke="#4e16ae" stroke-width="2.0" stroke-dasharray="4 2.5"/>
<circle cx="622.8" cy="390.7" r="4.4" fill="url(#gU)"/>
<text x="636" y="394.5" font-size="11">rGO-CMOF/DNH</text>
<text x="0" y="0" font-size="15.3" text-anchor="middle" transform="translate(559.65,337.5) rotate(-90)">Specific energy (Wh kg<tspan dy="-5" font-size="9">-1</tspan><tspan dy="5">)</tspan></text>
<text x="0" y="0" font-size="15.5" text-anchor="middle" transform="translate(706.8,454.6) scale(0.94,1)">Specific power (W kg<tspan dy="-5" font-size="9">-1</tspan><tspan dy="5">)</tspan></text>
<text x="547.3" y="235.2" font-size="24">(g)</text>
<rect x="873.1" y="252.37" width="21.8" height="166.13" fill="url(#hb)"/>
<line x1="884" y1="250.24" x2="884" y2="254.5" stroke="#4a1a90" stroke-width="1.3"/>
<line x1="881.7" y1="250.24" x2="886.3" y2="250.24" stroke="#4a1a90" stroke-width="1.3"/>
<line x1="881.7" y1="254.5" x2="886.3" y2="254.5" stroke="#4a1a90" stroke-width="1.3"/>
<rect x="926.4" y="257.9" width="21.8" height="160.6" fill="url(#hb)"/>
<line x1="937.3" y1="255.77" x2="937.3" y2="260.03" stroke="#4a1a90" stroke-width="1.3"/>
<line x1="935" y1="255.77" x2="939.6" y2="255.77" stroke="#4a1a90" stroke-width="1.3"/>
<line x1="935" y1="260.03" x2="939.6" y2="260.03" stroke="#4a1a90" stroke-width="1.3"/>
<rect x="979.8" y="258.76" width="21.8" height="159.74" fill="url(#hb)"/>
<line x1="990.7" y1="256.63" x2="990.7" y2="260.89" stroke="#4a1a90" stroke-width="1.3"/>
<line x1="988.4" y1="256.63" x2="993" y2="256.63" stroke="#4a1a90" stroke-width="1.3"/>
<line x1="988.4" y1="260.89" x2="993" y2="260.89" stroke="#4a1a90" stroke-width="1.3"/>
<rect x="1033.1" y="259.18" width="21.8" height="159.32" fill="url(#hb)"/>
<line x1="1044" y1="257.05" x2="1044" y2="261.31" stroke="#4a1a90" stroke-width="1.3"/>
<line x1="1041.7" y1="257.05" x2="1046.3" y2="257.05" stroke="#4a1a90" stroke-width="1.3"/>
<line x1="1041.7" y1="261.31" x2="1046.3" y2="261.31" stroke="#4a1a90" stroke-width="1.3"/>
<line x1="911" y1="241" x2="911" y2="418" stroke="#444" stroke-width="1.5" stroke-dasharray="7 6"/>
<line x1="964" y1="241" x2="964" y2="418" stroke="#444" stroke-width="1.5" stroke-dasharray="7 6"/>
<line x1="1018.4" y1="241" x2="1018.4" y2="418" stroke="#444" stroke-width="1.5" stroke-dasharray="7 6"/>
<rect x="857.6" y="239.8" width="214.2" height="178.7" fill="none" stroke="#000" stroke-width="1.9"/>
<line x1="857.6" y1="418.5" x2="854.1" y2="418.5" stroke="#000" stroke-width="1.4"/>
<text x="0" y="0" font-size="11.5" text-anchor="end" transform="translate(851.8,422.52) scale(0.93,1)">0</text>
<line x1="857.6" y1="375.9" x2="854.1" y2="375.9" stroke="#000" stroke-width="1.4"/>
<text x="0" y="0" font-size="11.5" text-anchor="end" transform="translate(851.8,379.93) scale(0.93,1)">100</text>
<line x1="857.6" y1="333.3" x2="854.1" y2="333.3" stroke="#000" stroke-width="1.4"/>
<text x="0" y="0" font-size="11.5" text-anchor="end" transform="translate(851.8,337.33) scale(0.93,1)">200</text>
<line x1="857.6" y1="290.71" x2="854.1" y2="290.71" stroke="#000" stroke-width="1.4"/>
<text x="0" y="0" font-size="11.5" text-anchor="end" transform="translate(851.8,294.73) scale(0.93,1)">300</text>
<line x1="857.6" y1="248.11" x2="854.1" y2="248.11" stroke="#000" stroke-width="1.4"/>
<text x="0" y="0" font-size="11.5" text-anchor="end" transform="translate(851.8,252.13) scale(0.93,1)">400</text>
<line x1="857.6" y1="397.2" x2="855.6" y2="397.2" stroke="#000" stroke-width="1.4"/>
<line x1="857.6" y1="354.6" x2="855.6" y2="354.6" stroke="#000" stroke-width="1.4"/>
<line x1="857.6" y1="312" x2="855.6" y2="312" stroke="#000" stroke-width="1.4"/>
<line x1="857.6" y1="269.41" x2="855.6" y2="269.41" stroke="#000" stroke-width="1.4"/>
<text x="0" y="0" font-size="11.5" text-anchor="middle" transform="translate(884,434) scale(0.93,1)">0</text>
<text x="0" y="0" font-size="11.5" text-anchor="middle" transform="translate(937.3,434) scale(0.93,1)">30</text>
<text x="0" y="0" font-size="11.5" text-anchor="middle" transform="translate(990.7,434) scale(0.93,1)">90</text>
<text x="0" y="0" font-size="11.5" text-anchor="middle" transform="translate(1044,434) scale(0.93,1)">180</text>
<text x="0" y="0" font-size="15.3" text-anchor="middle" transform="translate(825.05,330.6) rotate(-90)">Specific capacitance (F g<tspan dy="-5" font-size="9">-1</tspan><tspan dy="5">)</tspan></text>
<text x="0" y="0" font-size="15.5" text-anchor="middle" transform="translate(967.7,453) scale(0.94,1)">Bending angle (<tspan dy="-5" font-size="9">o</tspan><tspan dy="5">)</tspan></text>
<text x="813.2" y="236.8" font-size="24">(h)</text>
<path d="M70.41,471.32 L82.59,474.21 L94.77,476.43 L106.95,477.45 L119.13,478.3 L131.31,481.87 L161.76,486.63 L192.21,487.48 L222.66,488.67 L253.11,490.03" stroke="#7a3fd8" stroke-width="2.0" fill="none"/>
<circle cx="70.41" cy="471.32" r="3.2" fill="url(#gL)"/>
<circle cx="82.59" cy="474.21" r="3.2" fill="url(#gL)"/>
<circle cx="94.77" cy="476.43" r="3.2" fill="url(#gL)"/>
<circle cx="106.95" cy="477.45" r="3.2" fill="url(#gL)"/>
<circle cx="119.13" cy="478.3" r="3.2" fill="url(#gL)"/>
<circle cx="131.31" cy="481.87" r="3.2" fill="url(#gL)"/>
<circle cx="161.76" cy="486.63" r="3.2" fill="url(#gL)"/>
<circle cx="192.21" cy="487.48" r="3.2" fill="url(#gL)"/>
<circle cx="222.66" cy="488.67" r="3.2" fill="url(#gL)"/>
<circle cx="253.11" cy="490.03" r="3.2" fill="url(#gL)"/>
<rect x="57.5" y="463.5" width="211.2" height="177.9" fill="none" stroke="#000" stroke-width="1.9"/>
<line x1="70.41" y1="641.4" x2="70.41" y2="644.9" stroke="#000" stroke-width="1.4"/>
<text x="0" y="0" font-size="11.5" text-anchor="middle" transform="translate(70.41,656.6) scale(0.93,1)">0</text>
<line x1="131.31" y1="641.4" x2="131.31" y2="644.9" stroke="#000" stroke-width="1.4"/>
<text x="0" y="0" font-size="11.5" text-anchor="middle" transform="translate(131.31,656.6) scale(0.93,1)">1000</text>
<line x1="192.21" y1="641.4" x2="192.21" y2="644.9" stroke="#000" stroke-width="1.4"/>
<text x="0" y="0" font-size="11.5" text-anchor="middle" transform="translate(192.21,656.6) scale(0.93,1)">2000</text>
<line x1="253.11" y1="641.4" x2="253.11" y2="644.9" stroke="#000" stroke-width="1.4"/>
<text x="0" y="0" font-size="11.5" text-anchor="middle" transform="translate(253.11,656.6) scale(0.93,1)">3000</text>
<line x1="100.86" y1="641.4" x2="100.86" y2="643.4" stroke="#000" stroke-width="1.4"/>
<line x1="161.76" y1="641.4" x2="161.76" y2="643.4" stroke="#000" stroke-width="1.4"/>
<line x1="222.66" y1="641.4" x2="222.66" y2="643.4" stroke="#000" stroke-width="1.4"/>
<line x1="57.5" y1="641.4" x2="54" y2="641.4" stroke="#000" stroke-width="1.4"/>
<text x="0" y="0" font-size="11.5" text-anchor="end" transform="translate(50.1,645.42) scale(0.93,1)">0</text>
<line x1="57.5" y1="607.38" x2="54" y2="607.38" stroke="#000" stroke-width="1.4"/>
<text x="0" y="0" font-size="11.5" text-anchor="end" transform="translate(50.1,611.41) scale(0.93,1)">20</text>
<line x1="57.5" y1="573.37" x2="54" y2="573.37" stroke="#000" stroke-width="1.4"/>
<text x="0" y="0" font-size="11.5" text-anchor="end" transform="translate(50.1,577.39) scale(0.93,1)">40</text>
<line x1="57.5" y1="539.35" x2="54" y2="539.35" stroke="#000" stroke-width="1.4"/>
<text x="0" y="0" font-size="11.5" text-anchor="end" transform="translate(50.1,543.38) scale(0.93,1)">60</text>
<line x1="57.5" y1="505.34" x2="54" y2="505.34" stroke="#000" stroke-width="1.4"/>
<text x="0" y="0" font-size="11.5" text-anchor="end" transform="translate(50.1,509.36) scale(0.93,1)">80</text>
<line x1="57.5" y1="471.32" x2="54" y2="471.32" stroke="#000" stroke-width="1.4"/>
<text x="0" y="0" font-size="11.5" text-anchor="end" transform="translate(50.1,475.35) scale(0.93,1)">100</text>
<line x1="57.5" y1="624.39" x2="55.5" y2="624.39" stroke="#000" stroke-width="1.4"/>
<line x1="57.5" y1="590.38" x2="55.5" y2="590.38" stroke="#000" stroke-width="1.4"/>
<line x1="57.5" y1="556.36" x2="55.5" y2="556.36" stroke="#000" stroke-width="1.4"/>
<line x1="57.5" y1="522.35" x2="55.5" y2="522.35" stroke="#000" stroke-width="1.4"/>
<line x1="57.5" y1="488.33" x2="55.5" y2="488.33" stroke="#000" stroke-width="1.4"/>
<line x1="138.7" y1="548" x2="159.5" y2="548" stroke="#6c3cb4" stroke-width="2.2"/>
<circle cx="149.1" cy="548" r="3.4" fill="url(#gL)"/>
<text x="161.6" y="550.6" font-size="12.4" fill="#8048cc">89%</text>
<text x="0" y="0" font-size="15.3" text-anchor="middle" transform="translate(25.85,547) rotate(-90)">Capacity retention (%)</text>
<text x="0" y="0" font-size="15.5" text-anchor="middle" transform="translate(165.4,678) scale(0.94,1)">Bending number</text>
<text x="12.8" y="458.2" font-size="24">(i)</text>
<rect x="331.95" y="480.05" width="17.3" height="161.45" fill="url(#jb)"/>
<rect x="366.75" y="481.66" width="17.3" height="159.84" fill="url(#jb)"/>
<rect x="401.55" y="482.47" width="17.3" height="159.03" fill="url(#jb)"/>
<rect x="436.35" y="484.08" width="17.3" height="157.42" fill="url(#jb)"/>
<rect x="471.15" y="485.7" width="17.3" height="155.8" fill="url(#jb)"/>
<rect x="505.95" y="486.5" width="17.3" height="155" fill="url(#jb)"/>
<rect x="322.8" y="463.9" width="210.1" height="177.6" fill="none" stroke="#000" stroke-width="1.9"/>
<line x1="340.6" y1="641.5" x2="340.6" y2="645" stroke="#000" stroke-width="1.4"/>
<line x1="375.4" y1="641.5" x2="375.4" y2="645" stroke="#000" stroke-width="1.4"/>
<line x1="410.2" y1="641.5" x2="410.2" y2="645" stroke="#000" stroke-width="1.4"/>
<line x1="445" y1="641.5" x2="445" y2="645" stroke="#000" stroke-width="1.4"/>
<line x1="479.8" y1="641.5" x2="479.8" y2="645" stroke="#000" stroke-width="1.4"/>
<line x1="514.6" y1="641.5" x2="514.6" y2="645" stroke="#000" stroke-width="1.4"/>
<line x1="358" y1="641.5" x2="358" y2="643.5" stroke="#000" stroke-width="1.4"/>
<line x1="392.8" y1="641.5" x2="392.8" y2="643.5" stroke="#000" stroke-width="1.4"/>
<line x1="427.6" y1="641.5" x2="427.6" y2="643.5" stroke="#000" stroke-width="1.4"/>
<line x1="462.4" y1="641.5" x2="462.4" y2="643.5" stroke="#000" stroke-width="1.4"/>
<line x1="497.2" y1="641.5" x2="497.2" y2="643.5" stroke="#000" stroke-width="1.4"/>
<text x="0" y="0" font-size="11.5" text-anchor="middle" transform="translate(340.6,660.3) scale(0.93,1)">0</text>
<text x="0" y="0" font-size="11.5" text-anchor="middle" transform="translate(375.4,660.3) scale(0.93,1)">0.2</text>
<text x="0" y="0" font-size="11.5" text-anchor="middle" transform="translate(410.2,660.3) scale(0.93,1)">0.4</text>
<text x="0" y="0" font-size="11.5" text-anchor="middle" transform="translate(445,660.3) scale(0.93,1)">0.6</text>
<text x="0" y="0" font-size="11.5" text-anchor="middle" transform="translate(479.8,660.3) scale(0.93,1)">0.8</text>
<text x="0" y="0" font-size="11.5" text-anchor="middle" transform="translate(514.6,660.3) scale(0.93,1)">1.0</text>
<line x1="322.8" y1="641.5" x2="319.3" y2="641.5" stroke="#000" stroke-width="1.4"/>
<text x="0" y="0" font-size="11.5" text-anchor="end" transform="translate(317,645.52) scale(0.93,1)">0</text>
<line x1="322.8" y1="609.21" x2="319.3" y2="609.21" stroke="#000" stroke-width="1.4"/>
<text x="0" y="0" font-size="11.5" text-anchor="end" transform="translate(317,613.23) scale(0.93,1)">20</text>
<line x1="322.8" y1="576.92" x2="319.3" y2="576.92" stroke="#000" stroke-width="1.4"/>
<text x="0" y="0" font-size="11.5" text-anchor="end" transform="translate(317,580.94) scale(0.93,1)">40</text>
<line x1="322.8" y1="544.63" x2="319.3" y2="544.63" stroke="#000" stroke-width="1.4"/>
<text x="0" y="0" font-size="11.5" text-anchor="end" transform="translate(317,548.65) scale(0.93,1)">60</text>
<line x1="322.8" y1="512.34" x2="319.3" y2="512.34" stroke="#000" stroke-width="1.4"/>
<text x="0" y="0" font-size="11.5" text-anchor="end" transform="translate(317,516.36) scale(0.93,1)">80</text>
<line x1="322.8" y1="480.05" x2="319.3" y2="480.05" stroke="#000" stroke-width="1.4"/>
<text x="0" y="0" font-size="11.5" text-anchor="end" transform="translate(317,484.07) scale(0.93,1)">100</text>
<line x1="322.8" y1="625.35" x2="320.8" y2="625.35" stroke="#000" stroke-width="1.4"/>
<line x1="322.8" y1="593.06" x2="320.8" y2="593.06" stroke="#000" stroke-width="1.4"/>
<line x1="322.8" y1="560.77" x2="320.8" y2="560.77" stroke="#000" stroke-width="1.4"/>
<line x1="322.8" y1="528.48" x2="320.8" y2="528.48" stroke="#000" stroke-width="1.4"/>
<line x1="322.8" y1="496.19" x2="320.8" y2="496.19" stroke="#000" stroke-width="1.4"/>
<text x="0" y="0" font-size="15.3" text-anchor="middle" transform="translate(296.05,548) rotate(-90)">Capacity retention (%)</text>
<text x="0" y="0" font-size="15.5" text-anchor="middle" transform="translate(429.2,681.5) scale(0.94,1)">Weight (kg)</text>
<text x="269.9" y="455.3" font-size="24">(j)</text>
<circle cx="597.6" cy="483.72" r="2.9" fill="url(#gU)"/>
<circle cx="606.9" cy="484.1" r="2.9" fill="url(#gU)"/>
<circle cx="616.19" cy="484.48" r="2.9" fill="url(#gU)"/>
<circle cx="625.48" cy="484.85" r="2.9" fill="url(#gU)"/>
<circle cx="634.78" cy="485.23" r="2.9" fill="url(#gU)"/>
<circle cx="644.07" cy="485.61" r="2.9" fill="url(#gU)"/>
<circle cx="653.37" cy="485.98" r="2.9" fill="url(#gU)"/>
<circle cx="662.66" cy="486.36" r="2.9" fill="url(#gU)"/>
<circle cx="671.95" cy="486.74" r="2.9" fill="url(#gU)"/>
<circle cx="681.25" cy="487.1" r="2.9" fill="url(#gU)"/>
<circle cx="690.54" cy="487.37" r="2.9" fill="url(#gU)"/>
<circle cx="699.84" cy="487.64" r="2.9" fill="url(#gU)"/>
<circle cx="709.13" cy="487.91" r="2.9" fill="url(#gU)"/>
<circle cx="718.43" cy="488.18" r="2.9" fill="url(#gU)"/>
<circle cx="727.72" cy="488.45" r="2.9" fill="url(#gU)"/>
<circle cx="737.01" cy="488.72" r="2.9" fill="url(#gU)"/>
<circle cx="746.31" cy="488.99" r="2.9" fill="url(#gU)"/>
<circle cx="755.6" cy="489.26" r="2.9" fill="url(#gU)"/>
<circle cx="764.9" cy="489.67" r="2.9" fill="url(#gU)"/>
<circle cx="774.19" cy="490.08" r="2.9" fill="url(#gU)"/>
<circle cx="783.48" cy="490.49" r="2.9" fill="url(#gU)"/>
<circle cx="792.78" cy="490.9" r="2.9" fill="url(#gU)"/>
<circle cx="802.07" cy="491.29" r="2.9" fill="url(#gU)"/>
<circle cx="811.37" cy="491.35" r="2.9" fill="url(#gU)"/>
<circle cx="820.66" cy="491.41" r="2.9" fill="url(#gU)"/>
<circle cx="829.96" cy="491.47" r="2.9" fill="url(#gU)"/>
<circle cx="839.25" cy="491.53" r="2.9" fill="url(#gU)"/>
<circle cx="848.54" cy="491.59" r="2.9" fill="url(#gU)"/>
<circle cx="857.84" cy="491.66" r="2.9" fill="url(#gU)"/>
<circle cx="867.13" cy="491.72" r="2.9" fill="url(#gU)"/>
<circle cx="876.43" cy="491.78" r="2.9" fill="url(#gU)"/>
<circle cx="885.72" cy="491.84" r="2.9" fill="url(#gU)"/>
<circle cx="895.01" cy="491.9" r="2.9" fill="url(#gU)"/>
<circle cx="904.31" cy="491.96" r="2.9" fill="url(#gU)"/>
<circle cx="913.6" cy="492.03" r="2.9" fill="url(#gU)"/>
<circle cx="922.9" cy="492.09" r="2.9" fill="url(#gU)"/>
<circle cx="932.19" cy="492.15" r="2.9" fill="url(#gU)"/>
<circle cx="941.49" cy="492.21" r="2.9" fill="url(#gU)"/>
<circle cx="950.78" cy="492.27" r="2.9" fill="url(#gU)"/>
<circle cx="960.07" cy="492.33" r="2.9" fill="url(#gU)"/>
<circle cx="969.37" cy="496.62" r="2.9" fill="url(#gU)"/>
<circle cx="978.66" cy="496.95" r="2.9" fill="url(#gU)"/>
<circle cx="987.96" cy="497.28" r="2.9" fill="url(#gU)"/>
<circle cx="997.25" cy="497.6" r="2.9" fill="url(#gU)"/>
<circle cx="1006.54" cy="497.93" r="2.9" fill="url(#gU)"/>
<circle cx="1015.84" cy="498.26" r="2.9" fill="url(#gU)"/>
<circle cx="1025.13" cy="498.58" r="2.9" fill="url(#gU)"/>
<circle cx="1034.43" cy="498.91" r="2.9" fill="url(#gU)"/>
<circle cx="1043.72" cy="499.24" r="2.9" fill="url(#gU)"/>
<circle cx="1053.02" cy="499.57" r="2.9" fill="url(#gU)"/>
<circle cx="1062.31" cy="499.89" r="2.9" fill="url(#gU)"/>
<circle cx="597.6" cy="554.5" r="2.9" fill="url(#gP)"/>
<circle cx="606.9" cy="554.64" r="2.9" fill="url(#gP)"/>
<circle cx="616.19" cy="554.78" r="2.9" fill="url(#gP)"/>
<circle cx="625.48" cy="554.91" r="2.9" fill="url(#gP)"/>
<circle cx="634.78" cy="555.05" r="2.9" fill="url(#gP)"/>
<circle cx="644.07" cy="555.19" r="2.9" fill="url(#gP)"/>
<circle cx="653.37" cy="555.33" r="2.9" fill="url(#gP)"/>
<circle cx="662.66" cy="555.47" r="2.9" fill="url(#gP)"/>
<circle cx="671.95" cy="555.6" r="2.9" fill="url(#gP)"/>
<circle cx="681.25" cy="555.74" r="2.9" fill="url(#gP)"/>
<circle cx="690.54" cy="555.88" r="2.9" fill="url(#gP)"/>
<circle cx="699.84" cy="556.02" r="2.9" fill="url(#gP)"/>
<circle cx="709.13" cy="556.16" r="2.9" fill="url(#gP)"/>
<circle cx="718.43" cy="556.38" r="2.9" fill="url(#gP)"/>
<circle cx="727.72" cy="556.78" r="2.9" fill="url(#gP)"/>
<circle cx="737.01" cy="557.18" r="2.9" fill="url(#gP)"/>
<circle cx="746.31" cy="557.58" r="2.9" fill="url(#gP)"/>
<circle cx="755.6" cy="557.98" r="2.9" fill="url(#gP)"/>
<circle cx="764.9" cy="558.38" r="2.9" fill="url(#gP)"/>
<circle cx="774.19" cy="558.78" r="2.9" fill="url(#gP)"/>
<circle cx="783.48" cy="559.18" r="2.9" fill="url(#gP)"/>
<circle cx="792.78" cy="559.58" r="2.9" fill="url(#gP)"/>
<circle cx="802.07" cy="559.99" r="2.9" fill="url(#gP)"/>
<circle cx="811.37" cy="560.6" r="2.9" fill="url(#gP)"/>
<circle cx="820.66" cy="561.21" r="2.9" fill="url(#gP)"/>
<circle cx="829.96" cy="561.82" r="2.9" fill="url(#gP)"/>
<circle cx="839.25" cy="562.43" r="2.9" fill="url(#gP)"/>
<circle cx="848.54" cy="563.04" r="2.9" fill="url(#gP)"/>
<circle cx="857.84" cy="563.65" r="2.9" fill="url(#gP)"/>
<circle cx="867.13" cy="564.26" r="2.9" fill="url(#gP)"/>
<circle cx="876.43" cy="564.87" r="2.9" fill="url(#gP)"/>
<circle cx="885.72" cy="565.47" r="2.9" fill="url(#gP)"/>
<circle cx="895.01" cy="566.08" r="2.9" fill="url(#gP)"/>
<circle cx="904.31" cy="566.69" r="2.9" fill="url(#gP)"/>
<circle cx="913.6" cy="567.3" r="2.9" fill="url(#gP)"/>
<circle cx="922.9" cy="567.89" r="2.9" fill="url(#gP)"/>
<circle cx="932.19" cy="568.18" r="2.9" fill="url(#gP)"/>
<circle cx="941.49" cy="568.47" r="2.9" fill="url(#gP)"/>
<circle cx="950.78" cy="568.76" r="2.9" fill="url(#gP)"/>
<circle cx="960.07" cy="569.04" r="2.9" fill="url(#gP)"/>
<circle cx="969.37" cy="569.33" r="2.9" fill="url(#gP)"/>
<circle cx="978.66" cy="569.62" r="2.9" fill="url(#gP)"/>
<circle cx="987.96" cy="569.91" r="2.9" fill="url(#gP)"/>
<circle cx="997.25" cy="570.2" r="2.9" fill="url(#gP)"/>
<circle cx="1006.54" cy="570.48" r="2.9" fill="url(#gP)"/>
<circle cx="1015.84" cy="570.77" r="2.9" fill="url(#gP)"/>
<circle cx="1025.13" cy="571.06" r="2.9" fill="url(#gP)"/>
<circle cx="1034.43" cy="571.35" r="2.9" fill="url(#gP)"/>
<circle cx="1043.72" cy="571.64" r="2.9" fill="url(#gP)"/>
<circle cx="1053.02" cy="571.92" r="2.9" fill="url(#gP)"/>
<circle cx="1062.31" cy="572.21" r="2.9" fill="url(#gP)"/>
<circle cx="597.6" cy="610.02" r="2.9" fill="url(#gO)"/>
<circle cx="606.9" cy="610.08" r="2.9" fill="url(#gO)"/>
<circle cx="616.19" cy="610.14" r="2.9" fill="url(#gO)"/>
<circle cx="625.48" cy="610.21" r="2.9" fill="url(#gO)"/>
<circle cx="634.78" cy="610.27" r="2.9" fill="url(#gO)"/>
<circle cx="644.07" cy="610.34" r="2.9" fill="url(#gO)"/>
<circle cx="653.37" cy="610.4" r="2.9" fill="url(#gO)"/>
<circle cx="662.66" cy="610.46" r="2.9" fill="url(#gO)"/>
<circle cx="671.95" cy="610.53" r="2.9" fill="url(#gO)"/>
<circle cx="681.25" cy="610.59" r="2.9" fill="url(#gO)"/>
<circle cx="690.54" cy="610.66" r="2.9" fill="url(#gO)"/>
<circle cx="699.84" cy="610.72" r="2.9" fill="url(#gO)"/>
<circle cx="709.13" cy="610.78" r="2.9" fill="url(#gO)"/>
<circle cx="718.43" cy="610.85" r="2.9" fill="url(#gO)"/>
<circle cx="727.72" cy="610.91" r="2.9" fill="url(#gO)"/>
<circle cx="737.01" cy="610.97" r="2.9" fill="url(#gO)"/>
<circle cx="746.31" cy="611.04" r="2.9" fill="url(#gO)"/>
<circle cx="755.6" cy="611.1" r="2.9" fill="url(#gO)"/>
<circle cx="764.9" cy="611.17" r="2.9" fill="url(#gO)"/>
<circle cx="774.19" cy="611.23" r="2.9" fill="url(#gO)"/>
<circle cx="783.48" cy="611.66" r="2.9" fill="url(#gO)"/>
<circle cx="792.78" cy="613.08" r="2.9" fill="url(#gO)"/>
<circle cx="802.07" cy="614.5" r="2.9" fill="url(#gO)"/>
<circle cx="811.37" cy="615.92" r="2.9" fill="url(#gO)"/>
<circle cx="820.66" cy="616.83" r="2.9" fill="url(#gO)"/>
<circle cx="829.96" cy="616.87" r="2.9" fill="url(#gO)"/>
<circle cx="839.25" cy="616.92" r="2.9" fill="url(#gO)"/>
<circle cx="848.54" cy="616.97" r="2.9" fill="url(#gO)"/>
<circle cx="857.84" cy="617.01" r="2.9" fill="url(#gO)"/>
<circle cx="867.13" cy="617.06" r="2.9" fill="url(#gO)"/>
<circle cx="876.43" cy="617.11" r="2.9" fill="url(#gO)"/>
<circle cx="885.72" cy="617.15" r="2.9" fill="url(#gO)"/>
<circle cx="895.01" cy="617.2" r="2.9" fill="url(#gO)"/>
<circle cx="904.31" cy="617.25" r="2.9" fill="url(#gO)"/>
<circle cx="913.6" cy="617.29" r="2.9" fill="url(#gO)"/>
<circle cx="922.9" cy="617.34" r="2.9" fill="url(#gO)"/>
<circle cx="932.19" cy="617.39" r="2.9" fill="url(#gO)"/>
<circle cx="941.49" cy="617.43" r="2.9" fill="url(#gO)"/>
<circle cx="950.78" cy="617.48" r="2.9" fill="url(#gO)"/>
<circle cx="960.07" cy="617.53" r="2.9" fill="url(#gO)"/>
<circle cx="969.37" cy="617.57" r="2.9" fill="url(#gO)"/>
<circle cx="978.66" cy="617.62" r="2.9" fill="url(#gO)"/>
<circle cx="987.96" cy="617.67" r="2.9" fill="url(#gO)"/>
<circle cx="997.25" cy="617.71" r="2.9" fill="url(#gO)"/>
<circle cx="1006.54" cy="618.47" r="2.9" fill="url(#gO)"/>
<circle cx="1015.84" cy="619.32" r="2.9" fill="url(#gO)"/>
<circle cx="1025.13" cy="620.18" r="2.9" fill="url(#gO)"/>
<circle cx="1034.43" cy="621.03" r="2.9" fill="url(#gO)"/>
<circle cx="1043.72" cy="621.89" r="2.9" fill="url(#gO)"/>
<circle cx="1053.02" cy="622.74" r="2.9" fill="url(#gO)"/>
<circle cx="1062.31" cy="623.6" r="2.9" fill="url(#gO)"/>
<line x1="597.5" y1="517.5" x2="1070" y2="517.5" stroke="#26267e" stroke-width="1.8" stroke-dasharray="13 5.4"/>
<line x1="597.5" y1="585.6" x2="1070" y2="585.6" stroke="#b03444" stroke-width="1.8" stroke-dasharray="13 5.4"/>
<rect x="596.3" y="463" width="474.7" height="175.3" fill="none" stroke="#000" stroke-width="1.9"/>
<line x1="597.6" y1="638.3" x2="597.6" y2="641.8" stroke="#000" stroke-width="1.4"/>
<text x="0" y="0" font-size="13.3" text-anchor="middle" transform="translate(597.6,657.1) scale(1.0,1)">0</text>
<line x1="713.78" y1="638.3" x2="713.78" y2="641.8" stroke="#000" stroke-width="1.4"/>
<text x="0" y="0" font-size="13.3" text-anchor="middle" transform="translate(713.78,657.1) scale(1.0,1)">2500</text>
<line x1="829.96" y1="638.3" x2="829.96" y2="641.8" stroke="#000" stroke-width="1.4"/>
<text x="0" y="0" font-size="13.3" text-anchor="middle" transform="translate(829.96,657.1) scale(1.0,1)">5000</text>
<line x1="946.13" y1="638.3" x2="946.13" y2="641.8" stroke="#000" stroke-width="1.4"/>
<text x="0" y="0" font-size="13.3" text-anchor="middle" transform="translate(946.13,657.1) scale(1.0,1)">7500</text>
<line x1="1062.31" y1="638.3" x2="1062.31" y2="641.8" stroke="#000" stroke-width="1.4"/>
<text x="0" y="0" font-size="13.3" text-anchor="middle" transform="translate(1062.31,657.1) scale(1.0,1)">10000</text>
<line x1="655.69" y1="638.3" x2="655.69" y2="640.3" stroke="#000" stroke-width="1.4"/>
<line x1="771.87" y1="638.3" x2="771.87" y2="640.3" stroke="#000" stroke-width="1.4"/>
<line x1="888.04" y1="638.3" x2="888.04" y2="640.3" stroke="#000" stroke-width="1.4"/>
<line x1="1004.22" y1="638.3" x2="1004.22" y2="640.3" stroke="#000" stroke-width="1.4"/>
<line x1="596.3" y1="638.3" x2="592.8" y2="638.3" stroke="#000" stroke-width="1.4"/>
<text x="0" y="0" font-size="13.3" text-anchor="end" transform="translate(589.5,642.95) scale(1.0,1)">0</text>
<line x1="596.3" y1="568.29" x2="592.8" y2="568.29" stroke="#000" stroke-width="1.4"/>
<text x="0" y="0" font-size="13.3" text-anchor="end" transform="translate(589.5,572.95) scale(1.0,1)">100</text>
<line x1="596.3" y1="498.28" x2="592.8" y2="498.28" stroke="#000" stroke-width="1.4"/>
<text x="0" y="0" font-size="13.3" text-anchor="end" transform="translate(589.5,502.94) scale(1.0,1)">200</text>
<line x1="596.3" y1="603.3" x2="594.3" y2="603.3" stroke="#000" stroke-width="1.4"/>
<line x1="596.3" y1="533.29" x2="594.3" y2="533.29" stroke="#000" stroke-width="1.4"/>
<line x1="596.3" y1="463.28" x2="594.3" y2="463.28" stroke="#000" stroke-width="1.4"/>
<text x="681.7" y="484.3" font-size="15.6" fill="#6a22c8">rGO-CMOF/DNH</text>
<text x="916" y="485.5" font-size="16" fill="#6a22c8">90%</text>
<text x="717.5" y="553.3" font-size="15.8" fill="#d85bb0">rGO/DNH</text>
<text x="916" y="553.5" font-size="16" fill="#d85bb0">78%</text>
<text x="735.5" y="603" font-size="15" fill="#dba676">DNH</text>
<text x="916" y="609.5" font-size="16" fill="#dba676">50%</text>
<text x="0" y="0" font-size="16.4" text-anchor="middle" transform="translate(560.61,560) rotate(-90)">Specific capacitance (F g<tspan dy="-5.5" font-size="9.8">-1</tspan><tspan dy="5.5">)</tspan></text>
<text x="0" y="0" font-size="15.5" text-anchor="middle" transform="translate(810,677.5) scale(0.94,1)">Cycle Number</text>
<text x="547.3" y="460.1" font-size="24">(k)</text>
<g>
<path d="M113,104 L119,130 L125,148 L143.1,164.4 L156.2,174.9 L175,186 L194.1,195.5 L194.7,199.7 L167,206 L165.5,205.5 L152.3,193.2 L137.2,180 L128,172 L120.2,163 L115,155 L110.8,146 L108.5,133 L109.5,120 L110,105Z" fill="url(#alow)"/>
<path d="M110.8,100C110.73,102 110.6,107.83 110.4,112C110.2,116.17 109.77,121.17 109.6,125C109.43,128.83 109.2,131.5 109.4,135C109.6,138.5 109.87,142.67 110.8,146C111.73,149.33 113.43,152.17 115,155C116.57,157.83 118.03,160.17 120.2,163C122.37,165.83 125.17,169.17 128,172C130.83,174.83 133.15,176.47 137.2,180C141.25,183.53 147.53,188.93 152.3,193.2C157.07,197.47 163.55,203.53 165.8,205.6" stroke="#78afe8" stroke-width="4.2" fill="none"/>
<path d="M167.5,203.6 L194.4,197.4 L194.7,199.7 L168,206Z" fill="#27313d"/>
<path d="M113,126 L118,137 L124,142.3 L140,148.5 L156,155.5 L170,163 L184.3,168.7 L195,173 L206,176.2 L204.5,178.4 L203.2,179 L190,181 L178.7,182.8 L165.5,180 L150,173 L137.2,164.9 L125,153 L117,143 L112,132Z" fill="url(#ael)"/>
<path d="M118,138 L124,141.5 L145,142.8 L165.5,143.4 L195,147 L222,150.5 L222.3,152.8 L210,155.5 L195.7,157.2 L170,154.6 L146.6,150.6 L130,147 L119,143Z" fill="url(#aac)"/>
<path d="M196,155.4 L222.4,150.9 L222.3,152.9 L196,157.4Z" fill="#3c3c3c"/>

<path d="M29,49.2C32.93,48.2 45.93,44.67 52.6,43.2C59.27,41.73 63.55,41.03 69,40.4C74.45,39.77 81.13,39.22 85.3,39.4C89.47,39.58 91.92,40.23 94,41.5C96.08,42.77 97.08,44.45 97.8,47C98.52,49.55 98.12,52.45 98.3,56.8C98.48,61.15 98.62,69.48 98.9,73.1C99.18,76.72 99.18,76.87 100,78.5C100.82,80.13 102.13,81.82 103.8,82.9C105.47,83.98 105.38,84.57 110,85C114.62,85.43 126.4,85.1 131.5,85.5C136.6,85.9 138.43,86.2 140.6,87.4C142.77,88.6 143.63,89.65 144.5,92.7C145.37,95.75 145.55,101.48 145.8,105.7C146.05,109.92 145.63,114.62 146,118C146.37,121.38 146.83,123.75 148,126C149.17,128.25 150.83,130.17 153,131.5C155.17,132.83 157.85,133.82 161,134C164.15,134.18 166.82,133.85 171.9,132.6C176.98,131.35 184.97,128.57 191.5,126.5C198.03,124.43 202.85,122.42 211.1,120.2C219.35,117.98 236.02,114.37 241,113.2 L241,117C239.17,117.58 234.98,119.13 230,120.5C225.02,121.87 217.52,123.23 211.1,125.2C204.68,127.17 198.03,130.07 191.5,132.3C184.97,134.53 178.43,137.05 171.9,138.6C165.37,140.15 158.83,141.12 152.3,141.6C145.77,142.08 137.92,141.68 132.7,141.5C127.48,141.32 122.95,140.67 121,140.5 L120.5,142C120.02,141.42 118.52,140.08 117.6,138.5C116.68,136.92 115.67,134.62 115,132.5C114.33,130.38 113.95,128.62 113.6,125.8C113.25,122.98 113.17,118.48 112.9,115.6C112.63,112.72 112.57,110.77 112,108.5C111.43,106.23 110.67,103.7 109.5,102C108.33,100.3 106.92,99.08 105,98.3C103.08,97.52 101.38,97.5 98,97.3C94.62,97.1 88.95,97.48 84.7,97.1C80.45,96.72 75.32,96.18 72.5,95C69.68,93.82 68.92,92 67.8,90C66.68,88 66.23,85.75 65.8,83C65.37,80.25 65.42,76.67 65.2,73.5C64.98,70.33 64.95,66.67 64.5,64C64.05,61.33 63.5,59.33 62.5,57.5C61.5,55.67 60.25,53.88 58.5,53C56.75,52.12 54.9,52.18 52,52.2C49.1,52.22 44.77,52.72 41.1,53.1C37.43,53.48 32.77,54.1 30,54.5C27.23,54.9 25.42,55.33 24.5,55.5Z" fill="#3a6394"/>
<g clip-path="url(#ctop)">
<rect x="18" y="30" width="50" height="40" fill="#416c9f"/>
<rect x="60" y="30" width="42" height="75" fill="url(#gd1)"/>
<rect x="102" y="80" width="50" height="70" fill="url(#gd2)"/>
<rect x="60" y="30" width="42" height="75" fill="url(#gh1)"/>
<rect x="66" y="76" width="56" height="22" fill="url(#gv1)"/>
<rect x="115" y="120" width="45" height="25" fill="url(#gv2)"/>
<rect x="150" y="100" width="95" height="50" fill="#4370a5"/>
</g>
<path d="M29,49.2C32.93,48.2 45.93,44.67 52.6,43.2C59.27,41.73 63.55,41.03 69,40.4C74.45,39.77 81.13,39.22 85.3,39.4C89.47,39.58 91.92,40.23 94,41.5C96.08,42.77 97.08,44.45 97.8,47C98.52,49.55 98.12,52.45 98.3,56.8C98.48,61.15 98.62,69.48 98.9,73.1C99.18,76.72 99.18,76.87 100,78.5C100.82,80.13 102.13,81.82 103.8,82.9C105.47,83.98 105.38,84.57 110,85C114.62,85.43 126.4,85.1 131.5,85.5C136.6,85.9 138.43,86.2 140.6,87.4C142.77,88.6 143.63,89.65 144.5,92.7C145.37,95.75 145.55,101.48 145.8,105.7C146.05,109.92 145.63,114.62 146,118C146.37,121.38 146.83,123.75 148,126C149.17,128.25 150.83,130.17 153,131.5C155.17,132.83 157.85,133.82 161,134C164.15,134.18 170.08,132.83 171.9,132.6" stroke="#5d95d2" stroke-width="1.6" fill="none" opacity="0.8"/>
<path d="M121,138.5C122.95,139 127.48,140.98 132.7,141.5C137.92,142.02 145.77,142.08 152.3,141.6C158.83,141.12 165.37,140.15 171.9,138.6C178.43,137.05 184.97,134.53 191.5,132.3C198.03,130.07 204.68,127.17 211.1,125.2C217.52,123.23 225.02,121.87 230,120.5C234.98,119.13 239.17,117.98 241,117C242.83,116.02 243.5,114.38 241,114.6C238.5,114.82 230.98,117 226,118.3C221.02,119.6 216.85,120.58 211.1,122.4C205.35,124.22 198.03,127.03 191.5,129.2C184.97,131.37 178.43,133.87 171.9,135.4C165.37,136.93 158.83,137.93 152.3,138.4C145.77,138.87 137.75,138.6 132.7,138.2C127.65,137.8 123.78,136.37 122,136Z" fill="#74ace8"/>
<path d="M218,119.6 L241,113.4 L241,115 L218,121Z" fill="#8aa6c8"/>
<path d="M24.5,55.5C25.42,55.33 27.23,54.9 30,54.5C32.77,54.1 37.43,53.48 41.1,53.1C44.77,52.72 49.1,52.22 52,52.2C54.9,52.18 56.75,52.12 58.5,53C60.25,53.88 61.5,55.67 62.5,57.5C63.5,59.33 64.05,61.33 64.5,64C64.95,66.67 64.98,70.33 65.2,73.5C65.42,76.67 65.37,80.25 65.8,83C66.23,85.75 66.68,88 67.8,90C68.92,92 69.68,93.82 72.5,95C75.32,96.18 80.45,96.72 84.7,97.1C88.95,97.48 94.62,97.1 98,97.3C101.38,97.5 103.08,97.52 105,98.3C106.92,99.08 108.33,100.3 109.5,102C110.67,103.7 111.43,106.23 112,108.5C112.57,110.77 112.63,112.72 112.9,115.6C113.17,118.48 113.25,122.98 113.6,125.8C113.95,128.62 114.33,130.38 115,132.5C115.67,134.62 116.68,136.92 117.6,138.5C118.52,140.08 120.02,141.42 120.5,142" transform="translate(-3.5,3.5)" stroke="#86b6e8" stroke-width="7" fill="none"/>
<path d="M24.5,55.5C25.42,55.33 27.23,54.9 30,54.5C32.77,54.1 37.43,53.48 41.1,53.1C44.77,52.72 49.1,52.22 52,52.2C54.9,52.18 56.75,52.12 58.5,53C60.25,53.88 61.5,55.67 62.5,57.5C63.5,59.33 64.05,61.33 64.5,64C64.95,66.67 64.98,70.33 65.2,73.5C65.42,76.67 65.37,80.25 65.8,83C66.23,85.75 66.68,88 67.8,90C68.92,92 69.68,93.82 72.5,95C75.32,96.18 80.45,96.72 84.7,97.1C88.95,97.48 94.62,97.1 98,97.3C101.38,97.5 103.08,97.52 105,98.3C106.92,99.08 108.33,100.3 109.5,102C110.67,103.7 111.43,106.23 112,108.5C112.57,110.77 112.63,112.72 112.9,115.6C113.17,118.48 113.25,122.98 113.6,125.8C113.95,128.62 114.33,130.38 115,132.5C115.67,134.62 116.68,136.92 117.6,138.5C118.52,140.08 120.02,141.42 120.5,142" transform="translate(5,-5)" stroke="#6aa2de" stroke-width="9" fill="none"/>
<path d="M24.5,55.5C25.42,55.33 27.23,54.9 30,54.5C32.77,54.1 37.43,53.48 41.1,53.1C44.77,52.72 49.1,52.22 52,52.2C54.9,52.18 56.75,52.12 58.5,53C60.25,53.88 61.5,55.67 62.5,57.5C63.5,59.33 64.05,61.33 64.5,64C64.95,66.67 64.98,70.33 65.2,73.5C65.42,76.67 65.37,80.25 65.8,83C66.23,85.75 66.68,88 67.8,90C68.92,92 69.68,93.82 72.5,95C75.32,96.18 80.45,96.72 84.7,97.1C88.95,97.48 94.62,97.1 98,97.3C101.38,97.5 103.08,97.52 105,98.3C106.92,99.08 108.33,100.3 109.5,102C110.67,103.7 111.43,106.23 112,108.5C112.57,110.77 112.63,112.72 112.9,115.6C113.17,118.48 113.25,122.98 113.6,125.8C113.95,128.62 114.33,130.38 115,132.5C115.67,134.62 116.68,136.92 117.6,138.5C118.52,140.08 120.02,141.42 120.5,142" transform="translate(-2.6,2.6)" stroke="#6c6c70" stroke-width="1.4" fill="none"/>
<path d="M24.5,55.5C25.42,55.33 27.23,54.9 30,54.5C32.77,54.1 37.43,53.48 41.1,53.1C44.77,52.72 49.1,52.22 52,52.2C54.9,52.18 56.75,52.12 58.5,53C60.25,53.88 61.5,55.67 62.5,57.5C63.5,59.33 64.05,61.33 64.5,64C64.95,66.67 64.98,70.33 65.2,73.5C65.42,76.67 65.37,80.25 65.8,83C66.23,85.75 66.68,88 67.8,90C68.92,92 69.68,93.82 72.5,95C75.32,96.18 80.45,96.72 84.7,97.1C88.95,97.48 94.62,97.1 98,97.3C101.38,97.5 103.08,97.52 105,98.3C106.92,99.08 108.33,100.3 109.5,102C110.67,103.7 111.43,106.23 112,108.5C112.57,110.77 112.63,112.72 112.9,115.6C113.17,118.48 113.25,122.98 113.6,125.8C113.95,128.62 114.33,130.38 115,132.5C115.67,134.62 116.68,136.92 117.6,138.5C118.52,140.08 120.02,141.42 120.5,142" transform="translate(3.2,-3.2)" stroke="#6a605a" stroke-width="2.6" fill="none"/>
<path d="M24.5,55.5C25.42,55.33 27.23,54.9 30,54.5C32.77,54.1 37.43,53.48 41.1,53.1C44.77,52.72 49.1,52.22 52,52.2C54.9,52.18 56.75,52.12 58.5,53C60.25,53.88 61.5,55.67 62.5,57.5C63.5,59.33 64.05,61.33 64.5,64C64.95,66.67 64.98,70.33 65.2,73.5C65.42,76.67 65.37,80.25 65.8,83C66.23,85.75 66.68,88 67.8,90C68.92,92 69.68,93.82 72.5,95C75.32,96.18 80.45,96.72 84.7,97.1C88.95,97.48 94.62,97.1 98,97.3C101.38,97.5 103.08,97.52 105,98.3C106.92,99.08 108.33,100.3 109.5,102C110.67,103.7 111.43,106.23 112,108.5C112.57,110.77 112.63,112.72 112.9,115.6C113.17,118.48 113.25,122.98 113.6,125.8C113.95,128.62 114.33,130.38 115,132.5C115.67,134.62 116.68,136.92 117.6,138.5C118.52,140.08 120.02,141.42 120.5,142" stroke="#141414" stroke-width="4.4" fill="none"/>
</g>
<text x="242.2" y="115.8" font-size="15">NF</text>
<text x="225" y="154.6" font-size="15">AC</text>
<text x="209.1" y="180.8" font-size="15">Electrolyte</text>
<text x="193" y="205.8" font-size="13">AC</text>
<text x="144.7" y="220" font-size="15">NF</text>
<text x="12" y="22.5" font-size="24">(a)</text></svg></body></html>
